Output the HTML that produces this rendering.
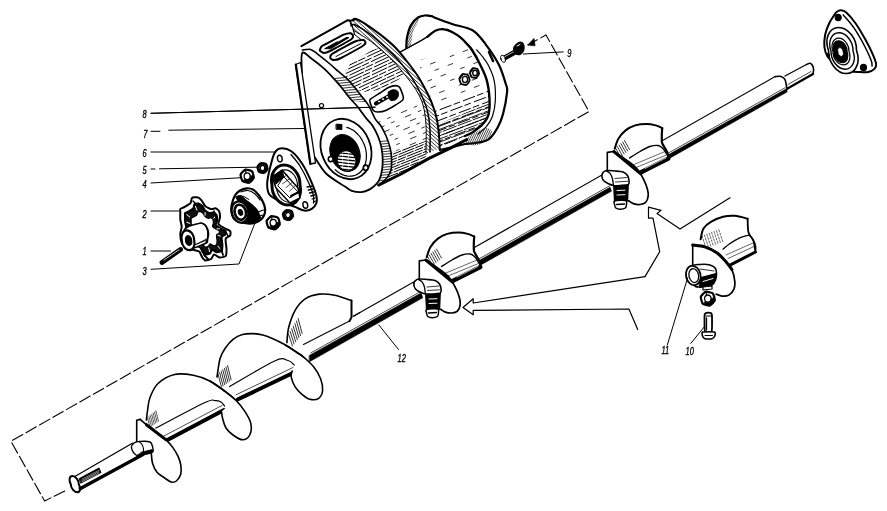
<!DOCTYPE html>
<html><head><meta charset="utf-8"><style>
html,body{margin:0;padding:0;background:#fff;width:887px;height:511px;overflow:hidden}
svg{display:block;filter:grayscale(1)}
text{font-family:"Liberation Sans",sans-serif;font-style:italic;font-size:11px;fill:#000;stroke:none}
</style></head><body>
<svg width="887" height="511" viewBox="0 0 887 511">
<rect width="887" height="511" fill="#fff"/>
<g fill="none" stroke="#000" stroke-linecap="round" stroke-linejoin="round">
<path d="M546.0 35.0 L589.0 111.5 L10.9 441.3 L44.6 501.0 L66.3 490.2" stroke-width="1.1" fill="none" stroke-dasharray="11.8 3.7" stroke-dashoffset="4.4"/>
<path d="M546.0 35.0 L528.0 44.8" stroke-width="1.1" fill="none" stroke-dasharray="6 4"/>
<path d="M528.0 44.8 L534.0 38.5 L535.0 45.5Z" stroke-width="0.8" fill="#000" />
<path d="M406.3 48.4 C406.4 46.6 406.2 41.3 407.0 37.4 C407.8 33.5 409.2 28.3 411.0 25.0 C412.8 21.7 415.7 19.1 418.0 17.5 C420.3 15.9 422.5 15.7 424.8 15.5 C427.1 15.3 430.0 15.9 431.6 16.2 C433.2 16.5 431.0 16.2 434.4 17.5 C437.8 18.8 445.6 21.8 452.0 24.0 C458.4 26.2 467.1 26.9 472.9 30.5 C478.7 34.1 482.3 39.9 486.6 45.6 C490.9 51.3 495.7 58.4 498.9 64.8 C502.1 71.2 504.4 79.4 505.8 84.0 C507.2 88.6 507.6 87.2 507.1 92.2 C506.6 97.2 504.6 108.2 503.0 114.1 C501.4 120.0 499.8 123.7 497.5 127.8 C495.2 131.9 492.5 136.4 489.3 138.8 C486.1 141.2 482.4 141.6 478.4 142.5 C474.3 143.4 467.2 143.8 465.0 144.0 L440 150 L406 60 Z" stroke-width="2.2" fill="#fff" />
<clipPath id="hfl1"><path d="M406.3 48.4 C405.8 46.3 406.2 41.3 407.0 37.4 C407.8 33.5 409.2 28.3 411.0 25.0 C412.8 21.7 416.8 18.0 418.0 17.5 C419.2 17.0 418.8 19.6 418.0 22.0 C417.2 24.4 414.3 27.3 413.0 32.0 C411.7 36.7 411.1 47.3 410.0 50.0 C408.9 52.7 406.8 50.5 406.3 48.4Z"/></clipPath>
<g clip-path="url(#hfl1)">
<path d="M400.0 10.0 L440.0 -54.0" stroke-width="0.7"/>
<path d="M400.0 13.2 L440.0 -50.8" stroke-width="0.7"/>
<path d="M400.0 16.4 L440.0 -47.6" stroke-width="0.7"/>
<path d="M400.0 19.6 L440.0 -44.4" stroke-width="0.7"/>
<path d="M400.0 22.8 L440.0 -41.2" stroke-width="0.7"/>
<path d="M400.0 26.0 L440.0 -38.0" stroke-width="0.7"/>
<path d="M400.0 29.2 L440.0 -34.8" stroke-width="0.7"/>
<path d="M400.0 32.4 L440.0 -31.6" stroke-width="0.7"/>
<path d="M400.0 35.6 L440.0 -28.4" stroke-width="0.7"/>
<path d="M400.0 38.8 L440.0 -25.2" stroke-width="0.7"/>
<path d="M400.0 42.0 L440.0 -22.0" stroke-width="0.7"/>
<path d="M400.0 45.2 L440.0 -18.8" stroke-width="0.7"/>
<path d="M400.0 48.4 L440.0 -15.6" stroke-width="0.7"/>
<path d="M400.0 51.6 L440.0 -12.4" stroke-width="0.7"/>
<path d="M400.0 54.8 L440.0 -9.2" stroke-width="0.7"/>
<path d="M400.0 58.0 L440.0 -6.0" stroke-width="0.7"/>
<path d="M400.0 61.2 L440.0 -2.8" stroke-width="0.7"/>
<path d="M400.0 64.4 L440.0 0.4" stroke-width="0.7"/>
<path d="M400.0 67.6 L440.0 3.6" stroke-width="0.7"/>
<path d="M400.0 70.8 L440.0 6.8" stroke-width="0.7"/>
<path d="M400.0 74.0 L440.0 10.0" stroke-width="0.7"/>
<path d="M400.0 77.2 L440.0 13.2" stroke-width="0.7"/>
<path d="M400.0 80.4 L440.0 16.4" stroke-width="0.7"/>
<path d="M400.0 83.6 L440.0 19.6" stroke-width="0.7"/>
<path d="M400.0 86.8 L440.0 22.8" stroke-width="0.7"/>
<path d="M400.0 90.0 L440.0 26.0" stroke-width="0.7"/>
<path d="M400.0 93.2 L440.0 29.2" stroke-width="0.7"/>
<path d="M400.0 96.4 L440.0 32.4" stroke-width="0.7"/>
<path d="M400.0 99.6 L440.0 35.6" stroke-width="0.7"/>
<path d="M400.0 102.8 L440.0 38.8" stroke-width="0.7"/>
<path d="M400.0 106.0 L440.0 42.0" stroke-width="0.7"/>
<path d="M400.0 109.2 L440.0 45.2" stroke-width="0.7"/>
<path d="M400.0 112.4 L440.0 48.4" stroke-width="0.7"/>
<path d="M400.0 115.6 L440.0 51.6" stroke-width="0.7"/>
<path d="M400.0 118.8 L440.0 54.8" stroke-width="0.7"/>
<path d="M400.0 122.0 L440.0 58.0" stroke-width="0.7"/>
</g>
<clipPath id="hfl2"><path d="M468.0 137.0 C469.7 135.2 473.0 133.5 476.0 132.0 C479.0 130.5 483.3 128.0 486.0 128.0 C488.7 128.0 492.0 129.8 492.0 132.0 C492.0 134.2 488.8 138.8 486.0 141.0 C483.2 143.2 478.3 145.2 475.0 145.5 C471.7 145.8 467.2 144.4 466.0 143.0 C464.8 141.6 466.3 138.8 468.0 137.0Z"/></clipPath>
<g clip-path="url(#hfl2)">
<path d="M460.0 120.0 L500.0 32.0" stroke-width="0.7"/>
<path d="M460.0 124.5 L500.0 36.5" stroke-width="0.7"/>
<path d="M460.0 129.0 L500.0 41.0" stroke-width="0.7"/>
<path d="M460.0 133.5 L500.0 45.5" stroke-width="0.7"/>
<path d="M460.0 138.0 L500.0 50.0" stroke-width="0.7"/>
<path d="M460.0 142.5 L500.0 54.5" stroke-width="0.7"/>
<path d="M460.0 147.0 L500.0 59.0" stroke-width="0.7"/>
<path d="M460.0 151.5 L500.0 63.5" stroke-width="0.7"/>
<path d="M460.0 156.0 L500.0 68.0" stroke-width="0.7"/>
<path d="M460.0 160.5 L500.0 72.5" stroke-width="0.7"/>
<path d="M460.0 165.0 L500.0 77.0" stroke-width="0.7"/>
<path d="M460.0 169.5 L500.0 81.5" stroke-width="0.7"/>
<path d="M460.0 174.0 L500.0 86.0" stroke-width="0.7"/>
<path d="M460.0 178.5 L500.0 90.5" stroke-width="0.7"/>
<path d="M460.0 183.0 L500.0 95.0" stroke-width="0.7"/>
<path d="M460.0 187.5 L500.0 99.5" stroke-width="0.7"/>
<path d="M460.0 192.0 L500.0 104.0" stroke-width="0.7"/>
<path d="M460.0 196.5 L500.0 108.5" stroke-width="0.7"/>
<path d="M460.0 201.0 L500.0 113.0" stroke-width="0.7"/>
<path d="M460.0 205.5 L500.0 117.5" stroke-width="0.7"/>
<path d="M460.0 210.0 L500.0 122.0" stroke-width="0.7"/>
<path d="M460.0 214.5 L500.0 126.5" stroke-width="0.7"/>
<path d="M460.0 219.0 L500.0 131.0" stroke-width="0.7"/>
<path d="M460.0 223.5 L500.0 135.5" stroke-width="0.7"/>
<path d="M460.0 228.0 L500.0 140.0" stroke-width="0.7"/>
<path d="M460.0 232.5 L500.0 144.5" stroke-width="0.7"/>
<path d="M460.0 237.0 L500.0 149.0" stroke-width="0.7"/>
</g>
<path d="M400.0 52.2 L421.5 40.4 L427.5 36.7 C428.9 35.7 433.1 31.8 435.8 30.5 C438.6 29.2 441.3 28.9 444.0 29.2 C446.7 29.4 449.3 30.6 452.0 32.0 C454.7 33.4 457.9 35.4 460.4 37.4 C462.9 39.4 465.1 41.9 467.0 44.0 C468.9 46.1 470.1 47.0 472.0 50.0 C473.9 53.0 476.3 56.8 478.7 61.7 C481.1 66.6 484.7 73.1 486.5 79.3 C488.3 85.5 489.2 93.0 489.5 98.9 C489.8 104.8 489.6 110.4 488.5 114.6 C487.4 118.8 485.2 121.4 482.6 124.3 C480.0 127.2 475.7 130.2 472.8 132.2 C469.9 134.1 466.3 135.4 465.0 136.0 L439.6 148 L428 153 L420 80 Z" stroke-width="0" fill="#fff" stroke="none"/>
<clipPath id="cbl"><path d="M420 115 L495 85 L495 160 L420 160 Z"/></clipPath>
<g clip-path="url(#cbl)">
<clipPath id="hbody"><path d="M400.0 52.2 L421.5 40.4 L427.5 36.7 C428.9 35.7 433.1 31.8 435.8 30.5 C438.6 29.2 441.3 28.9 444.0 29.2 C446.7 29.4 449.3 30.6 452.0 32.0 C454.7 33.4 457.9 35.4 460.4 37.4 C462.9 39.4 465.1 41.9 467.0 44.0 C468.9 46.1 470.1 47.0 472.0 50.0 C473.9 53.0 476.3 56.8 478.7 61.7 C481.1 66.6 484.7 73.1 486.5 79.3 C488.3 85.5 489.2 93.0 489.5 98.9 C489.8 104.8 489.6 110.4 488.5 114.6 C487.4 118.8 485.2 121.4 482.6 124.3 C480.0 127.2 475.7 130.2 472.8 132.2 C469.9 134.1 466.3 135.4 465.0 136.0 L439.6 148 L428 153 L420 80 Z"/></clipPath>
<g clip-path="url(#hbody)">
<path d="M420.0 60.0 L495.0 31.5" stroke-width="1.0" stroke-dasharray="12 3 6 4" stroke-dashoffset="13.0"/>
<path d="M420.0 65.2 L495.0 36.7" stroke-width="1.0" stroke-dasharray="12 3 6 4" stroke-dashoffset="6.0"/>
<path d="M420.0 70.4 L495.0 41.9" stroke-width="1.0" stroke-dasharray="12 3 6 4" stroke-dashoffset="26.0"/>
<path d="M420.0 75.6 L495.0 47.1" stroke-width="1.0" stroke-dasharray="12 3 6 4" stroke-dashoffset="2.9"/>
<path d="M420.0 80.8 L495.0 52.3" stroke-width="1.0" stroke-dasharray="12 3 6 4" stroke-dashoffset="21.4"/>
<path d="M420.0 86.0 L495.0 57.5" stroke-width="1.0" stroke-dasharray="12 3 6 4" stroke-dashoffset="14.6"/>
<path d="M420.0 91.2 L495.0 62.7" stroke-width="1.0" stroke-dasharray="12 3 6 4" stroke-dashoffset="2.3"/>
<path d="M420.0 96.4 L495.0 67.9" stroke-width="1.0" stroke-dasharray="12 3 6 4" stroke-dashoffset="20.3"/>
<path d="M420.0 101.6 L495.0 73.1" stroke-width="1.0" stroke-dasharray="12 3 6 4" stroke-dashoffset="1.5"/>
<path d="M420.0 106.8 L495.0 78.3" stroke-width="1.0" stroke-dasharray="12 3 6 4" stroke-dashoffset="17.3"/>
<path d="M420.0 112.0 L495.0 83.5" stroke-width="1.0" stroke-dasharray="12 3 6 4" stroke-dashoffset="2.8"/>
<path d="M420.0 117.2 L495.0 88.7" stroke-width="1.0" stroke-dasharray="12 3 6 4" stroke-dashoffset="3.6"/>
<path d="M420.0 122.4 L495.0 93.9" stroke-width="1.0" stroke-dasharray="12 3 6 4" stroke-dashoffset="17.0"/>
<path d="M420.0 127.6 L495.0 99.1" stroke-width="1.0" stroke-dasharray="12 3 6 4" stroke-dashoffset="33.1"/>
<path d="M420.0 132.8 L495.0 104.3" stroke-width="1.0" stroke-dasharray="12 3 6 4" stroke-dashoffset="5.0"/>
<path d="M420.0 138.0 L495.0 109.5" stroke-width="1.0" stroke-dasharray="12 3 6 4" stroke-dashoffset="8.9"/>
<path d="M420.0 143.2 L495.0 114.7" stroke-width="1.0" stroke-dasharray="12 3 6 4" stroke-dashoffset="25.1"/>
<path d="M420.0 148.4 L495.0 119.9" stroke-width="1.0" stroke-dasharray="12 3 6 4" stroke-dashoffset="37.9"/>
<path d="M420.0 153.6 L495.0 125.1" stroke-width="1.0" stroke-dasharray="12 3 6 4" stroke-dashoffset="23.1"/>
<path d="M420.0 158.8 L495.0 130.3" stroke-width="1.0" stroke-dasharray="12 3 6 4" stroke-dashoffset="15.9"/>
<path d="M420.0 164.0 L495.0 135.5" stroke-width="1.0" stroke-dasharray="12 3 6 4" stroke-dashoffset="39.1"/>
<path d="M420.0 169.2 L495.0 140.7" stroke-width="1.0" stroke-dasharray="12 3 6 4" stroke-dashoffset="1.9"/>
<path d="M420.0 174.4 L495.0 145.9" stroke-width="1.0" stroke-dasharray="12 3 6 4" stroke-dashoffset="34.3"/>
<path d="M420.0 179.6 L495.0 151.1" stroke-width="1.0" stroke-dasharray="12 3 6 4" stroke-dashoffset="11.6"/>
<path d="M420.0 184.8 L495.0 156.3" stroke-width="1.0" stroke-dasharray="12 3 6 4" stroke-dashoffset="5.8"/>
</g>
</g>
<clipPath id="cbl2"><path d="M420 132 L495 100 L495 160 L420 160 Z"/></clipPath>
<g clip-path="url(#cbl2)">
<clipPath id="hbody2"><path d="M400.0 52.2 L421.5 40.4 L427.5 36.7 C428.9 35.7 433.1 31.8 435.8 30.5 C438.6 29.2 441.3 28.9 444.0 29.2 C446.7 29.4 449.3 30.6 452.0 32.0 C454.7 33.4 457.9 35.4 460.4 37.4 C462.9 39.4 465.1 41.9 467.0 44.0 C468.9 46.1 470.1 47.0 472.0 50.0 C473.9 53.0 476.3 56.8 478.7 61.7 C481.1 66.6 484.7 73.1 486.5 79.3 C488.3 85.5 489.2 93.0 489.5 98.9 C489.8 104.8 489.6 110.4 488.5 114.6 C487.4 118.8 485.2 121.4 482.6 124.3 C480.0 127.2 475.7 130.2 472.8 132.2 C469.9 134.1 466.3 135.4 465.0 136.0 L439.6 148 L428 153 L420 80 Z"/></clipPath>
<g clip-path="url(#hbody2)">
<path d="M420.0 60.0 L495.0 31.5" stroke-width="0.9" stroke-dasharray="14 2" stroke-dashoffset="4.7"/>
<path d="M420.0 63.2 L495.0 34.7" stroke-width="0.9" stroke-dasharray="14 2" stroke-dashoffset="12.3"/>
<path d="M420.0 66.4 L495.0 37.9" stroke-width="0.9" stroke-dasharray="14 2" stroke-dashoffset="32.6"/>
<path d="M420.0 69.6 L495.0 41.1" stroke-width="0.9" stroke-dasharray="14 2" stroke-dashoffset="7.2"/>
<path d="M420.0 72.8 L495.0 44.3" stroke-width="0.9" stroke-dasharray="14 2" stroke-dashoffset="23.3"/>
<path d="M420.0 76.0 L495.0 47.5" stroke-width="0.9" stroke-dasharray="14 2" stroke-dashoffset="25.6"/>
<path d="M420.0 79.2 L495.0 50.7" stroke-width="0.9" stroke-dasharray="14 2" stroke-dashoffset="14.9"/>
<path d="M420.0 82.4 L495.0 53.9" stroke-width="0.9" stroke-dasharray="14 2" stroke-dashoffset="21.9"/>
<path d="M420.0 85.6 L495.0 57.1" stroke-width="0.9" stroke-dasharray="14 2" stroke-dashoffset="2.5"/>
<path d="M420.0 88.8 L495.0 60.3" stroke-width="0.9" stroke-dasharray="14 2" stroke-dashoffset="2.4"/>
<path d="M420.0 92.0 L495.0 63.5" stroke-width="0.9" stroke-dasharray="14 2" stroke-dashoffset="8.2"/>
<path d="M420.0 95.2 L495.0 66.7" stroke-width="0.9" stroke-dasharray="14 2" stroke-dashoffset="27.2"/>
<path d="M420.0 98.4 L495.0 69.9" stroke-width="0.9" stroke-dasharray="14 2" stroke-dashoffset="17.1"/>
<path d="M420.0 101.6 L495.0 73.1" stroke-width="0.9" stroke-dasharray="14 2" stroke-dashoffset="12.6"/>
<path d="M420.0 104.8 L495.0 76.3" stroke-width="0.9" stroke-dasharray="14 2" stroke-dashoffset="23.4"/>
<path d="M420.0 108.0 L495.0 79.5" stroke-width="0.9" stroke-dasharray="14 2" stroke-dashoffset="18.1"/>
<path d="M420.0 111.2 L495.0 82.7" stroke-width="0.9" stroke-dasharray="14 2" stroke-dashoffset="12.0"/>
<path d="M420.0 114.4 L495.0 85.9" stroke-width="0.9" stroke-dasharray="14 2" stroke-dashoffset="31.8"/>
<path d="M420.0 117.6 L495.0 89.1" stroke-width="0.9" stroke-dasharray="14 2" stroke-dashoffset="28.0"/>
<path d="M420.0 120.8 L495.0 92.3" stroke-width="0.9" stroke-dasharray="14 2" stroke-dashoffset="9.8"/>
<path d="M420.0 124.0 L495.0 95.5" stroke-width="0.9" stroke-dasharray="14 2" stroke-dashoffset="23.0"/>
<path d="M420.0 127.2 L495.0 98.7" stroke-width="0.9" stroke-dasharray="14 2" stroke-dashoffset="21.0"/>
<path d="M420.0 130.4 L495.0 101.9" stroke-width="0.9" stroke-dasharray="14 2" stroke-dashoffset="35.0"/>
<path d="M420.0 133.6 L495.0 105.1" stroke-width="0.9" stroke-dasharray="14 2" stroke-dashoffset="29.2"/>
<path d="M420.0 136.8 L495.0 108.3" stroke-width="0.9" stroke-dasharray="14 2" stroke-dashoffset="11.5"/>
<path d="M420.0 140.0 L495.0 111.5" stroke-width="0.9" stroke-dasharray="14 2" stroke-dashoffset="39.2"/>
<path d="M420.0 143.2 L495.0 114.7" stroke-width="0.9" stroke-dasharray="14 2" stroke-dashoffset="4.7"/>
<path d="M420.0 146.4 L495.0 117.9" stroke-width="0.9" stroke-dasharray="14 2" stroke-dashoffset="16.7"/>
<path d="M420.0 149.6 L495.0 121.1" stroke-width="0.9" stroke-dasharray="14 2" stroke-dashoffset="30.3"/>
<path d="M420.0 152.8 L495.0 124.3" stroke-width="0.9" stroke-dasharray="14 2" stroke-dashoffset="6.1"/>
<path d="M420.0 156.0 L495.0 127.5" stroke-width="0.9" stroke-dasharray="14 2" stroke-dashoffset="19.6"/>
<path d="M420.0 159.2 L495.0 130.7" stroke-width="0.9" stroke-dasharray="14 2" stroke-dashoffset="1.6"/>
<path d="M420.0 162.4 L495.0 133.9" stroke-width="0.9" stroke-dasharray="14 2" stroke-dashoffset="26.7"/>
<path d="M420.0 165.6 L495.0 137.1" stroke-width="0.9" stroke-dasharray="14 2" stroke-dashoffset="30.6"/>
<path d="M420.0 168.8 L495.0 140.3" stroke-width="0.9" stroke-dasharray="14 2" stroke-dashoffset="22.9"/>
<path d="M420.0 172.0 L495.0 143.5" stroke-width="0.9" stroke-dasharray="14 2" stroke-dashoffset="35.0"/>
<path d="M420.0 175.2 L495.0 146.7" stroke-width="0.9" stroke-dasharray="14 2" stroke-dashoffset="12.5"/>
<path d="M420.0 178.4 L495.0 149.9" stroke-width="0.9" stroke-dasharray="14 2" stroke-dashoffset="27.8"/>
<path d="M420.0 181.6 L495.0 153.1" stroke-width="0.9" stroke-dasharray="14 2" stroke-dashoffset="23.8"/>
<path d="M420.0 184.8 L495.0 156.3" stroke-width="0.9" stroke-dasharray="14 2" stroke-dashoffset="23.2"/>
<path d="M420.0 188.0 L495.0 159.5" stroke-width="0.9" stroke-dasharray="14 2" stroke-dashoffset="18.2"/>
</g>
</g>
<clipPath id="cbl3"><path d="M420 60 L495 40 L495 85 L420 115 Z"/></clipPath>
<g clip-path="url(#cbl3)">
<clipPath id="hbody3"><path d="M400.0 52.2 L421.5 40.4 L427.5 36.7 C428.9 35.7 433.1 31.8 435.8 30.5 C438.6 29.2 441.3 28.9 444.0 29.2 C446.7 29.4 449.3 30.6 452.0 32.0 C454.7 33.4 457.9 35.4 460.4 37.4 C462.9 39.4 465.1 41.9 467.0 44.0 C468.9 46.1 470.1 47.0 472.0 50.0 C473.9 53.0 476.3 56.8 478.7 61.7 C481.1 66.6 484.7 73.1 486.5 79.3 C488.3 85.5 489.2 93.0 489.5 98.9 C489.8 104.8 489.6 110.4 488.5 114.6 C487.4 118.8 485.2 121.4 482.6 124.3 C480.0 127.2 475.7 130.2 472.8 132.2 C469.9 134.1 466.3 135.4 465.0 136.0 L439.6 148 L428 153 L420 80 Z"/></clipPath>
<g clip-path="url(#hbody3)">
<path d="M420.0 60.0 L495.0 31.5" stroke-width="0.8" stroke-dasharray="4 10 5 16" stroke-dashoffset="33.6"/>
<path d="M420.0 68.0 L495.0 39.5" stroke-width="0.8" stroke-dasharray="4 10 5 16" stroke-dashoffset="37.8"/>
<path d="M420.0 76.0 L495.0 47.5" stroke-width="0.8" stroke-dasharray="4 10 5 16" stroke-dashoffset="19.0"/>
<path d="M420.0 84.0 L495.0 55.5" stroke-width="0.8" stroke-dasharray="4 10 5 16" stroke-dashoffset="26.6"/>
<path d="M420.0 92.0 L495.0 63.5" stroke-width="0.8" stroke-dasharray="4 10 5 16" stroke-dashoffset="2.4"/>
<path d="M420.0 100.0 L495.0 71.5" stroke-width="0.8" stroke-dasharray="4 10 5 16" stroke-dashoffset="28.1"/>
<path d="M420.0 108.0 L495.0 79.5" stroke-width="0.8" stroke-dasharray="4 10 5 16" stroke-dashoffset="25.9"/>
<path d="M420.0 116.0 L495.0 87.5" stroke-width="0.8" stroke-dasharray="4 10 5 16" stroke-dashoffset="39.7"/>
<path d="M420.0 124.0 L495.0 95.5" stroke-width="0.8" stroke-dasharray="4 10 5 16" stroke-dashoffset="32.9"/>
<path d="M420.0 132.0 L495.0 103.5" stroke-width="0.8" stroke-dasharray="4 10 5 16" stroke-dashoffset="11.4"/>
<path d="M420.0 140.0 L495.0 111.5" stroke-width="0.8" stroke-dasharray="4 10 5 16" stroke-dashoffset="15.4"/>
<path d="M420.0 148.0 L495.0 119.5" stroke-width="0.8" stroke-dasharray="4 10 5 16" stroke-dashoffset="26.7"/>
<path d="M420.0 156.0 L495.0 127.5" stroke-width="0.8" stroke-dasharray="4 10 5 16" stroke-dashoffset="0.9"/>
<path d="M420.0 164.0 L495.0 135.5" stroke-width="0.8" stroke-dasharray="4 10 5 16" stroke-dashoffset="18.5"/>
<path d="M420.0 172.0 L495.0 143.5" stroke-width="0.8" stroke-dasharray="4 10 5 16" stroke-dashoffset="6.7"/>
<path d="M420.0 180.0 L495.0 151.5" stroke-width="0.8" stroke-dasharray="4 10 5 16" stroke-dashoffset="4.7"/>
<path d="M420.0 188.0 L495.0 159.5" stroke-width="0.8" stroke-dasharray="4 10 5 16" stroke-dashoffset="2.4"/>
</g>
</g>
<path d="M400.0 52.2 L421.5 40.4 L427.5 36.7" stroke-width="1.5" fill="none" />
<path d="M427.5 36.7 C428.9 35.7 433.1 31.8 435.8 30.5 C438.6 29.2 441.3 28.9 444.0 29.2 C446.7 29.4 449.3 30.6 452.0 32.0 C454.7 33.4 457.9 35.4 460.4 37.4 C462.9 39.4 465.1 41.9 467.0 44.0 C468.9 46.1 470.1 47.0 472.0 50.0 C473.9 53.0 476.3 56.8 478.7 61.7 C481.1 66.6 484.7 73.1 486.5 79.3 C488.3 85.5 489.2 93.0 489.5 98.9 C489.8 104.8 489.6 110.4 488.5 114.6 C487.4 118.8 485.2 121.4 482.6 124.3 C480.0 127.2 475.7 130.2 472.8 132.2 C469.9 134.1 466.3 135.4 465.0 136.0" stroke-width="2.4" fill="none" />
<path d="M476.7 50.0 C477.6 51.0 480.0 53.4 482.0 56.0 C484.0 58.6 486.4 61.4 488.5 65.6 C490.6 69.8 493.2 75.4 494.3 81.3 C495.4 87.2 495.6 95.0 495.3 100.9 C495.0 106.8 493.9 112.3 492.4 116.5 C490.9 120.7 488.9 123.4 486.5 126.3 C484.1 129.2 479.4 132.7 478.0 134.0" stroke-width="1.2" fill="none" />
<path d="M489.0 52.0 L493.0 61.0" stroke-width="2.5" fill="none" />
<path d="M469.6 80.5 C469.5 81.5 467.1 84.5 466.3 84.9 C465.4 85.2 461.8 84.5 461.2 83.9 C460.5 83.2 459.2 79.5 459.4 78.5 C459.5 77.5 461.9 74.5 462.7 74.1 C463.6 73.8 467.2 74.5 467.8 75.1 C468.5 75.8 469.8 79.5 469.6 80.5Z" stroke-width="1.8" fill="#fff" />
<path d="M465.0 79.5 m-2.6 0 a2.6 3.12 0 1 0 5.2 0 a2.6 3.12 0 1 0 -5.2 0" stroke-width="1.4" fill="none" />
<path d="M460.3 78.5 L462.9 74.8" stroke-width="1.1" fill="none" />
<path d="M479.0 73.9 C478.9 74.7 476.8 77.5 476.1 77.8 C475.3 78.1 472.2 77.4 471.5 76.9 C470.9 76.3 469.8 73.0 470.0 72.1 C470.1 71.3 472.2 68.5 472.9 68.2 C473.7 67.9 476.8 68.6 477.5 69.1 C478.1 69.7 479.2 73.0 479.0 73.9Z" stroke-width="1.8" fill="#fff" />
<path d="M475.0 73 m-2.3 0 a2.3 2.76 0 1 0 4.6 0 a2.3 2.76 0 1 0 -4.6 0" stroke-width="1.4" fill="none" />
<path d="M470.8 72.1 L473.1 68.9" stroke-width="1.1" fill="none" />
<path d="M352.5 20.2 C353.1 20.0 353.6 18.2 356.0 19.0 C358.4 19.8 362.6 22.2 366.7 24.8 C370.8 27.4 375.8 31.0 380.4 34.6 C385.0 38.2 389.9 42.1 394.1 46.3 C398.4 50.5 402.0 55.1 405.9 60.0 C409.8 64.9 414.0 70.2 417.6 75.7 C421.2 81.2 424.8 88.1 427.4 93.3 C430.0 98.5 431.7 102.5 433.3 107.0 C434.9 111.5 436.1 115.3 437.0 120.0 C437.9 124.7 438.6 130.3 439.0 135.0 C439.4 139.7 439.5 145.8 439.6 148.0 L428 154 L401 175 L378 190 L301 80 L301.4 46.1 L347.8 20.2 Z" stroke-width="0" fill="#fff" stroke="none"/>
<clipPath id="cup"><path d="M345 72 L350 64 L372 50 L395 44 L410 55 L415 66 L398 80 L380 90 L362 92 L348 86 Z"/></clipPath>
<g clip-path="url(#cup)">
<clipPath id="hdr1"><path d="M302.3 50.0 C303.7 49.9 308.1 48.7 310.6 49.4 C313.2 50.1 314.5 51.8 317.6 54.1 C320.7 56.5 325.9 60.6 329.4 63.5 C332.9 66.4 335.8 69.2 338.7 71.7 C341.6 74.2 344.2 76.0 347.0 78.7 C349.8 81.4 352.9 85.3 355.2 88.1 C357.5 90.9 358.8 92.7 361.0 95.5 C363.2 98.3 366.0 101.3 368.4 105.2 C370.8 109.1 373.2 115.5 375.2 118.9 C377.2 122.3 378.8 122.7 380.6 125.5 C382.4 128.3 384.5 132.2 386.1 136.0 C387.7 139.8 389.3 144.4 390.2 148.3 C391.1 152.2 391.5 155.5 391.6 159.2 C391.7 162.8 391.6 167.2 390.9 170.2 C390.2 173.2 389.0 175.0 387.5 177.1 C386.0 179.2 383.6 181.1 382.0 182.5 C380.4 183.9 378.6 184.8 377.9 185.3 L401.0 175.0 L426.0 157.0 L426.0 154.0 C426.0 149.2 426.5 133.2 426.0 125.0 C425.5 116.8 424.7 110.9 423.0 105.0 C421.3 99.1 418.9 94.6 415.7 89.4 C412.5 84.2 408.2 78.9 404.0 73.7 C399.8 68.5 395.1 62.9 390.2 58.0 C385.3 53.1 378.5 47.6 374.6 44.4 C370.7 41.1 370.1 40.8 366.7 38.5 C363.3 36.2 356.1 32.0 354.0 30.7 Z"/></clipPath>
<g clip-path="url(#hdr1)">
<path d="M330.0 30.0 L440.0 -21.7" stroke-width="1.0" stroke-dasharray="16 2 7 3" stroke-dashoffset="30.7"/>
<path d="M330.0 33.4 L440.0 -18.3" stroke-width="1.0" stroke-dasharray="16 2 7 3" stroke-dashoffset="5.2"/>
<path d="M330.0 36.8 L440.0 -14.9" stroke-width="1.0" stroke-dasharray="16 2 7 3" stroke-dashoffset="9.9"/>
<path d="M330.0 40.2 L440.0 -11.5" stroke-width="1.0" stroke-dasharray="16 2 7 3" stroke-dashoffset="15.6"/>
<path d="M330.0 43.6 L440.0 -8.1" stroke-width="1.0" stroke-dasharray="16 2 7 3" stroke-dashoffset="34.9"/>
<path d="M330.0 47.0 L440.0 -4.7" stroke-width="1.0" stroke-dasharray="16 2 7 3" stroke-dashoffset="3.2"/>
<path d="M330.0 50.4 L440.0 -1.3" stroke-width="1.0" stroke-dasharray="16 2 7 3" stroke-dashoffset="18.0"/>
<path d="M330.0 53.8 L440.0 2.1" stroke-width="1.0" stroke-dasharray="16 2 7 3" stroke-dashoffset="22.0"/>
<path d="M330.0 57.2 L440.0 5.5" stroke-width="1.0" stroke-dasharray="16 2 7 3" stroke-dashoffset="35.3"/>
<path d="M330.0 60.6 L440.0 8.9" stroke-width="1.0" stroke-dasharray="16 2 7 3" stroke-dashoffset="32.8"/>
<path d="M330.0 64.0 L440.0 12.3" stroke-width="1.0" stroke-dasharray="16 2 7 3" stroke-dashoffset="34.6"/>
<path d="M330.0 67.4 L440.0 15.7" stroke-width="1.0" stroke-dasharray="16 2 7 3" stroke-dashoffset="11.1"/>
<path d="M330.0 70.8 L440.0 19.1" stroke-width="1.0" stroke-dasharray="16 2 7 3" stroke-dashoffset="16.6"/>
<path d="M330.0 74.2 L440.0 22.5" stroke-width="1.0" stroke-dasharray="16 2 7 3" stroke-dashoffset="14.4"/>
<path d="M330.0 77.6 L440.0 25.9" stroke-width="1.0" stroke-dasharray="16 2 7 3" stroke-dashoffset="35.4"/>
<path d="M330.0 81.0 L440.0 29.3" stroke-width="1.0" stroke-dasharray="16 2 7 3" stroke-dashoffset="38.3"/>
<path d="M330.0 84.4 L440.0 32.7" stroke-width="1.0" stroke-dasharray="16 2 7 3" stroke-dashoffset="6.0"/>
<path d="M330.0 87.8 L440.0 36.1" stroke-width="1.0" stroke-dasharray="16 2 7 3" stroke-dashoffset="7.0"/>
<path d="M330.0 91.2 L440.0 39.5" stroke-width="1.0" stroke-dasharray="16 2 7 3" stroke-dashoffset="9.3"/>
<path d="M330.0 94.6 L440.0 42.9" stroke-width="1.0" stroke-dasharray="16 2 7 3" stroke-dashoffset="9.3"/>
<path d="M330.0 98.0 L440.0 46.3" stroke-width="1.0" stroke-dasharray="16 2 7 3" stroke-dashoffset="19.4"/>
<path d="M330.0 101.4 L440.0 49.7" stroke-width="1.0" stroke-dasharray="16 2 7 3" stroke-dashoffset="23.6"/>
<path d="M330.0 104.8 L440.0 53.1" stroke-width="1.0" stroke-dasharray="16 2 7 3" stroke-dashoffset="10.5"/>
<path d="M330.0 108.2 L440.0 56.5" stroke-width="1.0" stroke-dasharray="16 2 7 3" stroke-dashoffset="0.2"/>
<path d="M330.0 111.6 L440.0 59.9" stroke-width="1.0" stroke-dasharray="16 2 7 3" stroke-dashoffset="16.8"/>
<path d="M330.0 115.0 L440.0 63.3" stroke-width="1.0" stroke-dasharray="16 2 7 3" stroke-dashoffset="14.8"/>
<path d="M330.0 118.4 L440.0 66.7" stroke-width="1.0" stroke-dasharray="16 2 7 3" stroke-dashoffset="22.7"/>
<path d="M330.0 121.8 L440.0 70.1" stroke-width="1.0" stroke-dasharray="16 2 7 3" stroke-dashoffset="38.1"/>
<path d="M330.0 125.2 L440.0 73.5" stroke-width="1.0" stroke-dasharray="16 2 7 3" stroke-dashoffset="27.6"/>
<path d="M330.0 128.6 L440.0 76.9" stroke-width="1.0" stroke-dasharray="16 2 7 3" stroke-dashoffset="20.6"/>
<path d="M330.0 132.0 L440.0 80.3" stroke-width="1.0" stroke-dasharray="16 2 7 3" stroke-dashoffset="24.7"/>
<path d="M330.0 135.4 L440.0 83.7" stroke-width="1.0" stroke-dasharray="16 2 7 3" stroke-dashoffset="27.0"/>
<path d="M330.0 138.8 L440.0 87.1" stroke-width="1.0" stroke-dasharray="16 2 7 3" stroke-dashoffset="2.2"/>
<path d="M330.0 142.2 L440.0 90.5" stroke-width="1.0" stroke-dasharray="16 2 7 3" stroke-dashoffset="36.0"/>
<path d="M330.0 145.6 L440.0 93.9" stroke-width="1.0" stroke-dasharray="16 2 7 3" stroke-dashoffset="31.2"/>
<path d="M330.0 149.0 L440.0 97.3" stroke-width="1.0" stroke-dasharray="16 2 7 3" stroke-dashoffset="35.0"/>
</g>
</g>
<clipPath id="clow"><path d="M370 160 L440 136 L440 200 L370 200 Z"/></clipPath>
<g clip-path="url(#clow)">
<clipPath id="hdr2"><path d="M302.3 50.0 C303.7 49.9 308.1 48.7 310.6 49.4 C313.2 50.1 314.5 51.8 317.6 54.1 C320.7 56.5 325.9 60.6 329.4 63.5 C332.9 66.4 335.8 69.2 338.7 71.7 C341.6 74.2 344.2 76.0 347.0 78.7 C349.8 81.4 352.9 85.3 355.2 88.1 C357.5 90.9 358.8 92.7 361.0 95.5 C363.2 98.3 366.0 101.3 368.4 105.2 C370.8 109.1 373.2 115.5 375.2 118.9 C377.2 122.3 378.8 122.7 380.6 125.5 C382.4 128.3 384.5 132.2 386.1 136.0 C387.7 139.8 389.3 144.4 390.2 148.3 C391.1 152.2 391.5 155.5 391.6 159.2 C391.7 162.8 391.6 167.2 390.9 170.2 C390.2 173.2 389.0 175.0 387.5 177.1 C386.0 179.2 383.6 181.1 382.0 182.5 C380.4 183.9 378.6 184.8 377.9 185.3 L401.0 175.0 L426.0 157.0 L426.0 154.0 C426.0 149.2 426.5 133.2 426.0 125.0 C425.5 116.8 424.7 110.9 423.0 105.0 C421.3 99.1 418.9 94.6 415.7 89.4 C412.5 84.2 408.2 78.9 404.0 73.7 C399.8 68.5 395.1 62.9 390.2 58.0 C385.3 53.1 378.5 47.6 374.6 44.4 C370.7 41.1 370.1 40.8 366.7 38.5 C363.3 36.2 356.1 32.0 354.0 30.7 Z"/></clipPath>
<g clip-path="url(#hdr2)">
<path d="M360.0 118.0 L440.0 86.0" stroke-width="1.0" stroke-dasharray="16 2 8 2" stroke-dashoffset="31.9"/>
<path d="M360.0 120.6 L440.0 88.6" stroke-width="1.0" stroke-dasharray="16 2 8 2" stroke-dashoffset="15.7"/>
<path d="M360.0 123.2 L440.0 91.2" stroke-width="1.0" stroke-dasharray="16 2 8 2" stroke-dashoffset="16.0"/>
<path d="M360.0 125.8 L440.0 93.8" stroke-width="1.0" stroke-dasharray="16 2 8 2" stroke-dashoffset="4.1"/>
<path d="M360.0 128.4 L440.0 96.4" stroke-width="1.0" stroke-dasharray="16 2 8 2" stroke-dashoffset="25.4"/>
<path d="M360.0 131.0 L440.0 99.0" stroke-width="1.0" stroke-dasharray="16 2 8 2" stroke-dashoffset="2.5"/>
<path d="M360.0 133.6 L440.0 101.6" stroke-width="1.0" stroke-dasharray="16 2 8 2" stroke-dashoffset="2.7"/>
<path d="M360.0 136.2 L440.0 104.2" stroke-width="1.0" stroke-dasharray="16 2 8 2" stroke-dashoffset="8.4"/>
<path d="M360.0 138.8 L440.0 106.8" stroke-width="1.0" stroke-dasharray="16 2 8 2" stroke-dashoffset="6.5"/>
<path d="M360.0 141.4 L440.0 109.4" stroke-width="1.0" stroke-dasharray="16 2 8 2" stroke-dashoffset="13.6"/>
<path d="M360.0 144.0 L440.0 112.0" stroke-width="1.0" stroke-dasharray="16 2 8 2" stroke-dashoffset="2.1"/>
<path d="M360.0 146.6 L440.0 114.6" stroke-width="1.0" stroke-dasharray="16 2 8 2" stroke-dashoffset="0.0"/>
<path d="M360.0 149.2 L440.0 117.2" stroke-width="1.0" stroke-dasharray="16 2 8 2" stroke-dashoffset="6.1"/>
<path d="M360.0 151.8 L440.0 119.8" stroke-width="1.0" stroke-dasharray="16 2 8 2" stroke-dashoffset="4.1"/>
<path d="M360.0 154.4 L440.0 122.4" stroke-width="1.0" stroke-dasharray="16 2 8 2" stroke-dashoffset="14.5"/>
<path d="M360.0 157.0 L440.0 125.0" stroke-width="1.0" stroke-dasharray="16 2 8 2" stroke-dashoffset="1.0"/>
<path d="M360.0 159.6 L440.0 127.6" stroke-width="1.0" stroke-dasharray="16 2 8 2" stroke-dashoffset="35.0"/>
<path d="M360.0 162.2 L440.0 130.2" stroke-width="1.0" stroke-dasharray="16 2 8 2" stroke-dashoffset="24.6"/>
<path d="M360.0 164.8 L440.0 132.8" stroke-width="1.0" stroke-dasharray="16 2 8 2" stroke-dashoffset="5.9"/>
<path d="M360.0 167.4 L440.0 135.4" stroke-width="1.0" stroke-dasharray="16 2 8 2" stroke-dashoffset="10.1"/>
<path d="M360.0 170.0 L440.0 138.0" stroke-width="1.0" stroke-dasharray="16 2 8 2" stroke-dashoffset="13.9"/>
<path d="M360.0 172.6 L440.0 140.6" stroke-width="1.0" stroke-dasharray="16 2 8 2" stroke-dashoffset="14.6"/>
<path d="M360.0 175.2 L440.0 143.2" stroke-width="1.0" stroke-dasharray="16 2 8 2" stroke-dashoffset="4.9"/>
<path d="M360.0 177.8 L440.0 145.8" stroke-width="1.0" stroke-dasharray="16 2 8 2" stroke-dashoffset="34.0"/>
<path d="M360.0 180.4 L440.0 148.4" stroke-width="1.0" stroke-dasharray="16 2 8 2" stroke-dashoffset="39.7"/>
<path d="M360.0 183.0 L440.0 151.0" stroke-width="1.0" stroke-dasharray="16 2 8 2" stroke-dashoffset="18.6"/>
<path d="M360.0 185.6 L440.0 153.6" stroke-width="1.0" stroke-dasharray="16 2 8 2" stroke-dashoffset="19.4"/>
<path d="M360.0 188.2 L440.0 156.2" stroke-width="1.0" stroke-dasharray="16 2 8 2" stroke-dashoffset="3.4"/>
<path d="M360.0 190.8 L440.0 158.8" stroke-width="1.0" stroke-dasharray="16 2 8 2" stroke-dashoffset="4.1"/>
<path d="M360.0 193.4 L440.0 161.4" stroke-width="1.0" stroke-dasharray="16 2 8 2" stroke-dashoffset="13.7"/>
<path d="M360.0 196.0 L440.0 164.0" stroke-width="1.0" stroke-dasharray="16 2 8 2" stroke-dashoffset="10.6"/>
<path d="M360.0 198.6 L440.0 166.6" stroke-width="1.0" stroke-dasharray="16 2 8 2" stroke-dashoffset="33.2"/>
<path d="M360.0 201.2 L440.0 169.2" stroke-width="1.0" stroke-dasharray="16 2 8 2" stroke-dashoffset="6.5"/>
<path d="M360.0 203.8 L440.0 171.8" stroke-width="1.0" stroke-dasharray="16 2 8 2" stroke-dashoffset="0.9"/>
<path d="M360.0 206.4 L440.0 174.4" stroke-width="1.0" stroke-dasharray="16 2 8 2" stroke-dashoffset="38.0"/>
<path d="M360.0 209.0 L440.0 177.0" stroke-width="1.0" stroke-dasharray="16 2 8 2" stroke-dashoffset="21.1"/>
<path d="M360.0 211.6 L440.0 179.6" stroke-width="1.0" stroke-dasharray="16 2 8 2" stroke-dashoffset="5.9"/>
<path d="M360.0 214.2 L440.0 182.2" stroke-width="1.0" stroke-dasharray="16 2 8 2" stroke-dashoffset="21.7"/>
<path d="M360.0 216.8 L440.0 184.8" stroke-width="1.0" stroke-dasharray="16 2 8 2" stroke-dashoffset="1.1"/>
<path d="M360.0 219.4 L440.0 187.4" stroke-width="1.0" stroke-dasharray="16 2 8 2" stroke-dashoffset="21.1"/>
<path d="M360.0 222.0 L440.0 190.0" stroke-width="1.0" stroke-dasharray="16 2 8 2" stroke-dashoffset="39.1"/>
<path d="M360.0 224.6 L440.0 192.6" stroke-width="1.0" stroke-dasharray="16 2 8 2" stroke-dashoffset="34.5"/>
<path d="M360.0 227.2 L440.0 195.2" stroke-width="1.0" stroke-dasharray="16 2 8 2" stroke-dashoffset="27.8"/>
<path d="M360.0 229.8 L440.0 197.8" stroke-width="1.0" stroke-dasharray="16 2 8 2" stroke-dashoffset="10.4"/>
</g>
</g>
<clipPath id="cmid"><path d="M370 125 L440 95 L440 136 L370 160 Z"/></clipPath>
<g clip-path="url(#cmid)">
<clipPath id="hdr3"><path d="M302.3 50.0 C303.7 49.9 308.1 48.7 310.6 49.4 C313.2 50.1 314.5 51.8 317.6 54.1 C320.7 56.5 325.9 60.6 329.4 63.5 C332.9 66.4 335.8 69.2 338.7 71.7 C341.6 74.2 344.2 76.0 347.0 78.7 C349.8 81.4 352.9 85.3 355.2 88.1 C357.5 90.9 358.8 92.7 361.0 95.5 C363.2 98.3 366.0 101.3 368.4 105.2 C370.8 109.1 373.2 115.5 375.2 118.9 C377.2 122.3 378.8 122.7 380.6 125.5 C382.4 128.3 384.5 132.2 386.1 136.0 C387.7 139.8 389.3 144.4 390.2 148.3 C391.1 152.2 391.5 155.5 391.6 159.2 C391.7 162.8 391.6 167.2 390.9 170.2 C390.2 173.2 389.0 175.0 387.5 177.1 C386.0 179.2 383.6 181.1 382.0 182.5 C380.4 183.9 378.6 184.8 377.9 185.3 L401.0 175.0 L426.0 157.0 L426.0 154.0 C426.0 149.2 426.5 133.2 426.0 125.0 C425.5 116.8 424.7 110.9 423.0 105.0 C421.3 99.1 418.9 94.6 415.7 89.4 C412.5 84.2 408.2 78.9 404.0 73.7 C399.8 68.5 395.1 62.9 390.2 58.0 C385.3 53.1 378.5 47.6 374.6 44.4 C370.7 41.1 370.1 40.8 366.7 38.5 C363.3 36.2 356.1 32.0 354.0 30.7 Z"/></clipPath>
<g clip-path="url(#hdr3)">
<path d="M360.0 100.0 L440.0 66.4" stroke-width="0.8" stroke-dasharray="6 8 3 12" stroke-dashoffset="14.7"/>
<path d="M360.0 106.0 L440.0 72.4" stroke-width="0.8" stroke-dasharray="6 8 3 12" stroke-dashoffset="6.7"/>
<path d="M360.0 112.0 L440.0 78.4" stroke-width="0.8" stroke-dasharray="6 8 3 12" stroke-dashoffset="30.9"/>
<path d="M360.0 118.0 L440.0 84.4" stroke-width="0.8" stroke-dasharray="6 8 3 12" stroke-dashoffset="21.3"/>
<path d="M360.0 124.0 L440.0 90.4" stroke-width="0.8" stroke-dasharray="6 8 3 12" stroke-dashoffset="31.2"/>
<path d="M360.0 130.0 L440.0 96.4" stroke-width="0.8" stroke-dasharray="6 8 3 12" stroke-dashoffset="13.2"/>
<path d="M360.0 136.0 L440.0 102.4" stroke-width="0.8" stroke-dasharray="6 8 3 12" stroke-dashoffset="8.9"/>
<path d="M360.0 142.0 L440.0 108.4" stroke-width="0.8" stroke-dasharray="6 8 3 12" stroke-dashoffset="32.5"/>
<path d="M360.0 148.0 L440.0 114.4" stroke-width="0.8" stroke-dasharray="6 8 3 12" stroke-dashoffset="39.4"/>
<path d="M360.0 154.0 L440.0 120.4" stroke-width="0.8" stroke-dasharray="6 8 3 12" stroke-dashoffset="34.1"/>
<path d="M360.0 160.0 L440.0 126.4" stroke-width="0.8" stroke-dasharray="6 8 3 12" stroke-dashoffset="32.2"/>
<path d="M360.0 166.0 L440.0 132.4" stroke-width="0.8" stroke-dasharray="6 8 3 12" stroke-dashoffset="32.7"/>
<path d="M360.0 172.0 L440.0 138.4" stroke-width="0.8" stroke-dasharray="6 8 3 12" stroke-dashoffset="29.6"/>
<path d="M360.0 178.0 L440.0 144.4" stroke-width="0.8" stroke-dasharray="6 8 3 12" stroke-dashoffset="9.1"/>
<path d="M360.0 184.0 L440.0 150.4" stroke-width="0.8" stroke-dasharray="6 8 3 12" stroke-dashoffset="20.7"/>
<path d="M360.0 190.0 L440.0 156.4" stroke-width="0.8" stroke-dasharray="6 8 3 12" stroke-dashoffset="14.2"/>
</g>
</g>
<clipPath id="hband"><path d="M352.5 20.2 C353.1 20.0 353.6 18.2 356.0 19.0 C358.4 19.8 362.6 22.2 366.7 24.8 C370.8 27.4 375.8 31.0 380.4 34.6 C385.0 38.2 389.9 42.1 394.1 46.3 C398.4 50.5 402.0 55.1 405.9 60.0 C409.8 64.9 414.0 70.2 417.6 75.7 C421.2 81.2 424.8 88.1 427.4 93.3 C430.0 98.5 431.7 102.5 433.3 107.0 C434.9 111.5 436.1 115.3 437.0 120.0 C437.9 124.7 438.6 130.3 439.0 135.0 C439.4 139.7 439.5 145.8 439.6 148.0 L426.0 154.0 C426.0 149.2 426.5 133.2 426.0 125.0 C425.5 116.8 424.7 110.9 423.0 105.0 C421.3 99.1 418.9 94.6 415.7 89.4 C412.5 84.2 408.2 78.9 404.0 73.7 C399.8 68.5 395.1 62.9 390.2 58.0 C385.3 53.1 378.5 47.6 374.6 44.4 C370.7 41.1 370.1 40.8 366.7 38.5 C363.3 36.2 356.1 32.0 354.0 30.7 Z"/></clipPath>
<g clip-path="url(#hband)">
<path d="M350.0 0.0 L445.0 85.5" stroke-width="0.8"/>
<path d="M350.0 3.6 L445.0 89.1" stroke-width="0.8"/>
<path d="M350.0 7.2 L445.0 92.7" stroke-width="0.8"/>
<path d="M350.0 10.8 L445.0 96.3" stroke-width="0.8"/>
<path d="M350.0 14.4 L445.0 99.9" stroke-width="0.8"/>
<path d="M350.0 18.0 L445.0 103.5" stroke-width="0.8"/>
<path d="M350.0 21.6 L445.0 107.1" stroke-width="0.8"/>
<path d="M350.0 25.2 L445.0 110.7" stroke-width="0.8"/>
<path d="M350.0 28.8 L445.0 114.3" stroke-width="0.8"/>
<path d="M350.0 32.4 L445.0 117.9" stroke-width="0.8"/>
<path d="M350.0 36.0 L445.0 121.5" stroke-width="0.8"/>
<path d="M350.0 39.6 L445.0 125.1" stroke-width="0.8"/>
<path d="M350.0 43.2 L445.0 128.7" stroke-width="0.8"/>
<path d="M350.0 46.8 L445.0 132.3" stroke-width="0.8"/>
<path d="M350.0 50.4 L445.0 135.9" stroke-width="0.8"/>
<path d="M350.0 54.0 L445.0 139.5" stroke-width="0.8"/>
<path d="M350.0 57.6 L445.0 143.1" stroke-width="0.8"/>
<path d="M350.0 61.2 L445.0 146.7" stroke-width="0.8"/>
<path d="M350.0 64.8 L445.0 150.3" stroke-width="0.8"/>
<path d="M350.0 68.4 L445.0 153.9" stroke-width="0.8"/>
<path d="M350.0 72.0 L445.0 157.5" stroke-width="0.8"/>
<path d="M350.0 75.6 L445.0 161.1" stroke-width="0.8"/>
<path d="M350.0 79.2 L445.0 164.7" stroke-width="0.8"/>
<path d="M350.0 82.8 L445.0 168.3" stroke-width="0.8"/>
<path d="M350.0 86.4 L445.0 171.9" stroke-width="0.8"/>
<path d="M350.0 90.0 L445.0 175.5" stroke-width="0.8"/>
<path d="M350.0 93.6 L445.0 179.1" stroke-width="0.8"/>
<path d="M350.0 97.2 L445.0 182.7" stroke-width="0.8"/>
<path d="M350.0 100.8 L445.0 186.3" stroke-width="0.8"/>
<path d="M350.0 104.4 L445.0 189.9" stroke-width="0.8"/>
<path d="M350.0 108.0 L445.0 193.5" stroke-width="0.8"/>
<path d="M350.0 111.6 L445.0 197.1" stroke-width="0.8"/>
<path d="M350.0 115.2 L445.0 200.7" stroke-width="0.8"/>
<path d="M350.0 118.8 L445.0 204.3" stroke-width="0.8"/>
<path d="M350.0 122.4 L445.0 207.9" stroke-width="0.8"/>
<path d="M350.0 126.0 L445.0 211.5" stroke-width="0.8"/>
<path d="M350.0 129.6 L445.0 215.1" stroke-width="0.8"/>
<path d="M350.0 133.2 L445.0 218.7" stroke-width="0.8"/>
<path d="M350.0 136.8 L445.0 222.3" stroke-width="0.8"/>
<path d="M350.0 140.4 L445.0 225.9" stroke-width="0.8"/>
<path d="M350.0 144.0 L445.0 229.5" stroke-width="0.8"/>
<path d="M350.0 147.6 L445.0 233.1" stroke-width="0.8"/>
<path d="M350.0 151.2 L445.0 236.7" stroke-width="0.8"/>
<path d="M350.0 154.8 L445.0 240.3" stroke-width="0.8"/>
<path d="M350.0 158.4 L445.0 243.9" stroke-width="0.8"/>
<path d="M350.0 162.0 L445.0 247.5" stroke-width="0.8"/>
<path d="M350.0 165.6 L445.0 251.1" stroke-width="0.8"/>
<path d="M350.0 169.2 L445.0 254.7" stroke-width="0.8"/>
<path d="M350.0 172.8 L445.0 258.3" stroke-width="0.8"/>
<path d="M350.0 176.4 L445.0 261.9" stroke-width="0.8"/>
<path d="M350.0 180.0 L445.0 265.5" stroke-width="0.8"/>
<path d="M350.0 183.6 L445.0 269.1" stroke-width="0.8"/>
<path d="M350.0 187.2 L445.0 272.7" stroke-width="0.8"/>
<path d="M350.0 190.8 L445.0 276.3" stroke-width="0.8"/>
<path d="M350.0 194.4 L445.0 279.9" stroke-width="0.8"/>
<path d="M350.0 198.0 L445.0 283.5" stroke-width="0.8"/>
<path d="M350.0 201.6 L445.0 287.1" stroke-width="0.8"/>
<path d="M350.0 205.2 L445.0 290.7" stroke-width="0.8"/>
<path d="M350.0 208.8 L445.0 294.3" stroke-width="0.8"/>
<path d="M350.0 212.4 L445.0 297.9" stroke-width="0.8"/>
<path d="M350.0 216.0 L445.0 301.5" stroke-width="0.8"/>
<path d="M350.0 219.6 L445.0 305.1" stroke-width="0.8"/>
<path d="M350.0 223.2 L445.0 308.7" stroke-width="0.8"/>
<path d="M350.0 226.8 L445.0 312.3" stroke-width="0.8"/>
<path d="M350.0 230.4 L445.0 315.9" stroke-width="0.8"/>
<path d="M350.0 234.0 L445.0 319.5" stroke-width="0.8"/>
<path d="M350.0 237.6 L445.0 323.1" stroke-width="0.8"/>
<path d="M350.0 241.2 L445.0 326.7" stroke-width="0.8"/>
<path d="M350.0 244.8 L445.0 330.3" stroke-width="0.8"/>
</g>
<path d="M352.5 20.2 C353.1 20.0 353.6 18.2 356.0 19.0 C358.4 19.8 362.6 22.2 366.7 24.8 C370.8 27.4 375.8 31.0 380.4 34.6 C385.0 38.2 389.9 42.1 394.1 46.3 C398.4 50.5 402.0 55.1 405.9 60.0 C409.8 64.9 414.0 70.2 417.6 75.7 C421.2 81.2 424.8 88.1 427.4 93.3 C430.0 98.5 431.7 102.5 433.3 107.0 C434.9 111.5 436.1 115.3 437.0 120.0 C437.9 124.7 438.6 130.3 439.0 135.0 C439.4 139.7 439.5 145.8 439.6 148.0" stroke-width="2" fill="none" />
<path d="M352.0 25.5 C352.5 25.4 351.9 23.3 355.0 24.8 C358.1 26.3 365.5 30.7 370.7 34.6 C375.9 38.5 381.4 43.7 386.3 48.3 C391.2 52.9 395.8 57.1 400.0 62.0 C404.2 66.9 408.2 72.1 411.8 77.6 C415.4 83.1 418.9 89.7 421.5 95.2 C424.1 100.8 426.0 105.1 427.4 110.9 C428.8 116.7 429.6 123.2 430.0 130.0 C430.4 136.8 430.0 148.3 430.0 152.0" stroke-width="1.5" fill="none" />
<path d="M354.0 30.7 C356.1 32.0 363.3 36.2 366.7 38.5 C370.1 40.8 370.7 41.1 374.6 44.4 C378.5 47.6 385.3 53.1 390.2 58.0 C395.1 62.9 399.8 68.5 404.0 73.7 C408.2 78.9 412.5 84.2 415.7 89.4 C418.9 94.6 421.3 99.1 423.0 105.0 C424.7 110.9 425.5 116.8 426.0 125.0 C426.5 133.2 426.0 149.2 426.0 154.0" stroke-width="1.0" fill="none" />
<path d="M379.0 185.0 L401.0 174.0 L428.5 158.6 L450.4 148.2 L466.8 139.5" stroke-width="3" fill="none" />
<path d="M301.4 46.1 L347.8 20.2 L350.1 20.8 L352.5 20.2 L356.0 19.0" stroke-width="2" fill="none" />
<path d="M350.1 20.8 L351.3 26.0" stroke-width="1.5" fill="none" />
<path d="M319.8 50.5 C319.6 49.9 320.8 47.2 321.5 46.5 C322.2 45.8 324.8 44.7 327.0 43.5 C329.2 42.3 341.3 35.6 343.7 34.6 C346.1 33.6 349.6 33.1 350.5 33.2 C351.4 33.3 352.9 34.9 353.0 35.5 C353.1 36.1 353.3 38.0 351.0 39.5 C348.7 41.0 332.7 49.6 330.0 51.0 C327.3 52.4 325.0 53.0 324.0 53.0 C323.0 53.0 320.1 51.1 319.8 50.5Z" stroke-width="2" fill="#fff" />
<path d="M325.0 48.5 L345.0 37.5 L349.0 37.5 L331.0 48.5Z" stroke-width="1" fill="#000" />
<path d="M338.0 41.0 L346.0 36.5" stroke-width="1.2" fill="none" stroke="#fff"/>
<path d="M330.5 58.5 C330.3 57.9 329.6 55.7 332.0 54.0 C334.4 52.3 351.9 42.9 355.0 41.5 C358.1 40.1 362.4 39.9 363.5 40.0 C364.6 40.1 365.6 42.4 365.5 43.0 C365.4 43.6 364.6 45.0 362.0 46.5 C359.4 48.0 342.8 57.1 340.0 58.5 C337.2 59.9 334.9 60.0 334.0 60.0 C333.1 60.0 330.7 59.1 330.5 58.5Z" stroke-width="2" fill="#fff" />
<path d="M336.0 56.5 L361.0 43.5" stroke-width="1" fill="none" />
<path d="M350.1 20.8 L352.5 27.0 L354.5 34.5" stroke-width="1.2" fill="none" />
<path d="M354.5 34.5 L361.0 39.5" stroke-width="1" fill="none" />
<clipPath id="crimlow"><path d="M335 77 L370 77 L370 102 L335 102 Z M370 140 L400 140 L400 183 L370 183 Z"/></clipPath>
<g clip-path="url(#crimlow)">
<clipPath id="hrim"><path d="M302.3 50.0 C303.7 49.9 308.1 48.7 310.6 49.4 C313.2 50.1 314.5 51.8 317.6 54.1 C320.7 56.5 325.9 60.6 329.4 63.5 C332.9 66.4 335.8 69.2 338.7 71.7 C341.6 74.2 344.2 76.0 347.0 78.7 C349.8 81.4 352.9 85.3 355.2 88.1 C357.5 90.9 358.8 92.7 361.0 95.5 C363.2 98.3 366.0 101.3 368.4 105.2 C370.8 109.1 373.2 115.5 375.2 118.9 C377.2 122.3 378.8 122.7 380.6 125.5 C382.4 128.3 384.5 132.2 386.1 136.0 C387.7 139.8 389.3 144.4 390.2 148.3 C391.1 152.2 391.5 155.5 391.6 159.2 C391.7 162.8 391.6 167.2 390.9 170.2 C390.2 173.2 389.0 175.0 387.5 177.1 C386.0 179.2 383.6 181.1 382.0 182.5 C380.4 183.9 378.6 184.8 377.9 185.3 L361.4 192.1 C362.8 191.7 367.2 190.8 369.7 189.4 C372.2 188.0 374.8 185.7 376.5 183.9 C378.2 182.1 379.0 180.7 379.9 178.4 C380.8 176.1 381.5 173.4 382.0 170.2 C382.5 167.0 382.8 163.1 382.7 159.2 C382.6 155.3 382.1 150.8 381.3 146.9 C380.5 143.0 379.4 139.6 377.9 136.0 C376.4 132.4 374.4 128.6 372.4 125.5 C370.3 122.4 368.1 120.7 365.6 117.5 C363.1 114.3 360.1 109.8 357.4 106.5 C354.7 103.2 352.0 100.8 349.3 97.5 C346.6 94.2 343.8 90.3 341.1 87.0 C338.4 83.7 335.8 80.7 332.9 77.6 C330.0 74.5 327.0 71.3 323.5 68.2 C320.0 65.1 315.2 61.3 311.7 58.8 C308.2 56.2 303.9 53.9 302.3 52.9 Z"/></clipPath>
<g clip-path="url(#hrim)">
<path d="M330.0 40.0 L400.0 33.0" stroke-width="0.8"/>
<path d="M330.0 42.6 L400.0 35.6" stroke-width="0.8"/>
<path d="M330.0 45.2 L400.0 38.2" stroke-width="0.8"/>
<path d="M330.0 47.8 L400.0 40.8" stroke-width="0.8"/>
<path d="M330.0 50.4 L400.0 43.4" stroke-width="0.8"/>
<path d="M330.0 53.0 L400.0 46.0" stroke-width="0.8"/>
<path d="M330.0 55.6 L400.0 48.6" stroke-width="0.8"/>
<path d="M330.0 58.2 L400.0 51.2" stroke-width="0.8"/>
<path d="M330.0 60.8 L400.0 53.8" stroke-width="0.8"/>
<path d="M330.0 63.4 L400.0 56.4" stroke-width="0.8"/>
<path d="M330.0 66.0 L400.0 59.0" stroke-width="0.8"/>
<path d="M330.0 68.6 L400.0 61.6" stroke-width="0.8"/>
<path d="M330.0 71.2 L400.0 64.2" stroke-width="0.8"/>
<path d="M330.0 73.8 L400.0 66.8" stroke-width="0.8"/>
<path d="M330.0 76.4 L400.0 69.4" stroke-width="0.8"/>
<path d="M330.0 79.0 L400.0 72.0" stroke-width="0.8"/>
<path d="M330.0 81.6 L400.0 74.6" stroke-width="0.8"/>
<path d="M330.0 84.2 L400.0 77.2" stroke-width="0.8"/>
<path d="M330.0 86.8 L400.0 79.8" stroke-width="0.8"/>
<path d="M330.0 89.4 L400.0 82.4" stroke-width="0.8"/>
<path d="M330.0 92.0 L400.0 85.0" stroke-width="0.8"/>
<path d="M330.0 94.6 L400.0 87.6" stroke-width="0.8"/>
<path d="M330.0 97.2 L400.0 90.2" stroke-width="0.8"/>
<path d="M330.0 99.8 L400.0 92.8" stroke-width="0.8"/>
<path d="M330.0 102.4 L400.0 95.4" stroke-width="0.8"/>
<path d="M330.0 105.0 L400.0 98.0" stroke-width="0.8"/>
<path d="M330.0 107.6 L400.0 100.6" stroke-width="0.8"/>
<path d="M330.0 110.2 L400.0 103.2" stroke-width="0.8"/>
<path d="M330.0 112.8 L400.0 105.8" stroke-width="0.8"/>
<path d="M330.0 115.4 L400.0 108.4" stroke-width="0.8"/>
<path d="M330.0 118.0 L400.0 111.0" stroke-width="0.8"/>
<path d="M330.0 120.6 L400.0 113.6" stroke-width="0.8"/>
<path d="M330.0 123.2 L400.0 116.2" stroke-width="0.8"/>
<path d="M330.0 125.8 L400.0 118.8" stroke-width="0.8"/>
<path d="M330.0 128.4 L400.0 121.4" stroke-width="0.8"/>
<path d="M330.0 131.0 L400.0 124.0" stroke-width="0.8"/>
<path d="M330.0 133.6 L400.0 126.6" stroke-width="0.8"/>
<path d="M330.0 136.2 L400.0 129.2" stroke-width="0.8"/>
<path d="M330.0 138.8 L400.0 131.8" stroke-width="0.8"/>
<path d="M330.0 141.4 L400.0 134.4" stroke-width="0.8"/>
<path d="M330.0 144.0 L400.0 137.0" stroke-width="0.8"/>
<path d="M330.0 146.6 L400.0 139.6" stroke-width="0.8"/>
<path d="M330.0 149.2 L400.0 142.2" stroke-width="0.8"/>
<path d="M330.0 151.8 L400.0 144.8" stroke-width="0.8"/>
<path d="M330.0 154.4 L400.0 147.4" stroke-width="0.8"/>
<path d="M330.0 157.0 L400.0 150.0" stroke-width="0.8"/>
<path d="M330.0 159.6 L400.0 152.6" stroke-width="0.8"/>
<path d="M330.0 162.2 L400.0 155.2" stroke-width="0.8"/>
<path d="M330.0 164.8 L400.0 157.8" stroke-width="0.8"/>
<path d="M330.0 167.4 L400.0 160.4" stroke-width="0.8"/>
<path d="M330.0 170.0 L400.0 163.0" stroke-width="0.8"/>
<path d="M330.0 172.6 L400.0 165.6" stroke-width="0.8"/>
<path d="M330.0 175.2 L400.0 168.2" stroke-width="0.8"/>
<path d="M330.0 177.8 L400.0 170.8" stroke-width="0.8"/>
<path d="M330.0 180.4 L400.0 173.4" stroke-width="0.8"/>
<path d="M330.0 183.0 L400.0 176.0" stroke-width="0.8"/>
<path d="M330.0 185.6 L400.0 178.6" stroke-width="0.8"/>
<path d="M330.0 188.2 L400.0 181.2" stroke-width="0.8"/>
<path d="M330.0 190.8 L400.0 183.8" stroke-width="0.8"/>
<path d="M330.0 193.4 L400.0 186.4" stroke-width="0.8"/>
<path d="M330.0 196.0 L400.0 189.0" stroke-width="0.8"/>
<path d="M330.0 198.6 L400.0 191.6" stroke-width="0.8"/>
<path d="M330.0 201.2 L400.0 194.2" stroke-width="0.8"/>
<path d="M330.0 203.8 L400.0 196.8" stroke-width="0.8"/>
<path d="M330.0 206.4 L400.0 199.4" stroke-width="0.8"/>
</g>
</g>
<path d="M302.3 50.0 C303.7 49.9 308.1 48.7 310.6 49.4 C313.2 50.1 314.5 51.8 317.6 54.1 C320.7 56.5 325.9 60.6 329.4 63.5 C332.9 66.4 335.8 69.2 338.7 71.7 C341.6 74.2 344.2 76.0 347.0 78.7 C349.8 81.4 352.9 85.3 355.2 88.1 C357.5 90.9 358.8 92.7 361.0 95.5 C363.2 98.3 366.0 101.3 368.4 105.2 C370.8 109.1 373.2 115.5 375.2 118.9 C377.2 122.3 378.8 122.7 380.6 125.5 C382.4 128.3 384.5 132.2 386.1 136.0 C387.7 139.8 389.3 144.4 390.2 148.3 C391.1 152.2 391.5 155.5 391.6 159.2 C391.7 162.8 391.6 167.2 390.9 170.2 C390.2 173.2 389.0 175.0 387.5 177.1 C386.0 179.2 383.6 181.1 382.0 182.5 C380.4 183.9 378.6 184.8 377.9 185.3" stroke-width="1.6" fill="none" />
<path d="M302.3 52.9 C303.9 51.0 308.2 56.2 311.7 58.8 C315.2 61.3 320.0 65.1 323.5 68.2 C327.0 71.3 330.0 74.5 332.9 77.6 C335.8 80.7 338.4 83.7 341.1 87.0 C343.8 90.3 346.6 94.2 349.3 97.5 C352.0 100.8 354.7 103.2 357.4 106.5 C360.1 109.8 363.1 114.3 365.6 117.5 C368.1 120.7 370.3 122.4 372.4 125.5 C374.4 128.6 376.4 132.4 377.9 136.0 C379.4 139.6 380.5 143.0 381.3 146.9 C382.1 150.8 382.6 155.3 382.7 159.2 C382.8 163.1 382.5 167.0 382.0 170.2 C381.5 173.4 380.8 176.1 379.9 178.4 C379.0 180.7 378.2 182.1 376.5 183.9 C374.8 185.7 372.2 188.0 369.7 189.4 C367.2 190.8 364.4 191.9 361.4 192.1 C358.4 192.3 354.5 191.7 351.8 190.8 C349.1 189.9 349.2 189.4 345.0 186.6 C340.8 183.8 331.5 178.6 326.6 174.0 C321.8 169.4 318.4 162.9 315.9 159.0 C313.4 155.1 313.1 156.5 311.5 150.3 C309.9 144.1 307.4 132.1 306.0 122.0 C304.6 112.0 303.7 98.7 303.0 90.0 C302.3 81.3 301.9 76.2 301.8 70.0 C301.7 63.8 300.7 54.8 302.3 52.9Z" stroke-width="1.8" fill="#fff" />
<path d="M295.6 64.5 L300.5 62.5 L315.5 163.0 L310.2 164.0Z" stroke-width="1.3" fill="#fff" />
<path d="M295.8 64.5 L310.4 164.0" stroke-width="2.2" fill="none" />
<ellipse cx="346" cy="149" rx="24.5" ry="31" transform="rotate(-22 346 149)" stroke-width="1.8" fill="#fff" />
<path d="M346.8 127.4 C347.3 127.6 348.8 128.0 349.9 128.5 C350.9 129.0 351.9 129.5 352.9 130.1 C353.9 130.8 354.8 131.5 355.7 132.3 C356.6 133.1 357.5 134.0 358.3 134.9 C359.2 135.8 360.0 136.8 360.7 137.9 C361.4 138.9 362.1 140.0 362.7 141.2 C363.3 142.3 363.8 143.5 364.3 144.7 C364.7 145.9 365.1 147.2 365.5 148.4 C365.8 149.7 366.0 150.9 366.2 152.2 C366.4 153.4 366.4 154.7 366.4 155.9 C366.5 157.2 366.4 158.4 366.2 159.6 C366.1 160.8 365.8 161.9 365.5 163.1 C365.2 164.2 364.8 165.2 364.4 166.2 C363.9 167.3 363.4 168.2 362.8 169.1 C362.2 170.0 361.6 170.8 360.9 171.5 C360.1 172.3 359.4 172.9 358.5 173.5 C357.7 174.1 356.9 174.6 355.9 175.0 C355.0 175.4 354.1 175.7 353.1 175.9 C352.1 176.1 351.1 176.2 350.1 176.2 C349.1 176.3 348.1 176.2 347.0 176.0 C346.0 175.8 344.9 175.6 343.9 175.2 C342.9 174.9 341.8 174.4 340.8 173.9 C339.8 173.3 338.8 172.7 337.9 172.0 C336.9 171.3 335.6 170.0 335.1 169.6" stroke-width="1.2" fill="none" />
<ellipse cx="345" cy="153" rx="14.5" ry="19" transform="rotate(-22 345 153)" stroke-width="1" fill="#000" />
<ellipse cx="346.6" cy="160.8" rx="9.3" ry="10.2" transform="rotate(-22 346.6 160.8)" stroke-width="1" fill="#fff" />
<clipPath id="cspl"><ellipse cx="346.6" cy="160.8" rx="9.3" ry="10.2" transform="rotate(-22 346.6 160.8)"/></clipPath>
<g clip-path="url(#cspl)">
<path d="M336.0 152.5 L360.0 155.0" stroke-width="1.3" fill="none" stroke-dasharray="6 1.5 4 1.5"/>
<path d="M336.0 155.7 L360.0 158.2" stroke-width="1.3" fill="none" stroke-dasharray="6 1.5 4 1.5"/>
<path d="M336.0 158.9 L360.0 161.4" stroke-width="1.3" fill="none" stroke-dasharray="6 1.5 4 1.5"/>
<path d="M336.0 162.1 L360.0 164.6" stroke-width="1.3" fill="none" stroke-dasharray="6 1.5 4 1.5"/>
<path d="M336.0 165.3 L360.0 167.8" stroke-width="1.3" fill="none" stroke-dasharray="6 1.5 4 1.5"/>
<path d="M336.0 168.5 L360.0 171.0" stroke-width="1.3" fill="none" stroke-dasharray="6 1.5 4 1.5"/>
</g>
<path d="M336.4 124.2 l5.5 0.3 l0 5 l-5.5 -0.3Z" stroke-width="1" fill="#000" />
<ellipse cx="330.7" cy="159.1" rx="2.4" ry="2.6" transform="rotate(0 330.7 159.1)" stroke-width="1.6" fill="#fff" />
<ellipse cx="365.7" cy="167.7" rx="2.4" ry="2.6" transform="rotate(0 365.7 167.7)" stroke-width="1.6" fill="#fff" />
<ellipse cx="321.5" cy="105.6" rx="2.1" ry="2.1" transform="rotate(0 321.5 105.6)" stroke-width="1.2" fill="#fff" />
<path d="M370.1 99.5 C371.2 98.2 377.8 94.4 380.0 93.0 C382.2 91.6 387.2 88.2 389.0 87.3 C390.8 86.4 394.0 85.6 395.2 85.6 C396.4 85.6 398.7 86.1 399.6 87.3 C400.5 88.5 402.8 94.6 403.1 96.1 C403.4 97.6 404.2 98.9 402.3 100.5 C400.4 102.1 389.3 108.9 386.4 110.2 C383.5 111.5 379.1 112.0 377.6 112.0 C376.1 112.0 374.0 111.1 373.2 110.2 C372.4 109.3 371.0 105.2 370.6 104.0 C370.2 102.8 369.0 100.8 370.1 99.5Z" stroke-width="1.6" fill="#fff" />
<path d="M376.0 103.5 L390.0 95.5" stroke-width="4.2" fill="none" />
<path d="M388.5 92.0 C389.1 91.0 391.8 89.9 393.0 89.8 C394.2 89.7 396.8 90.2 397.5 91.0 C398.2 91.8 398.7 94.4 398.5 95.5 C398.3 96.6 397.0 98.8 396.0 99.5 C395.0 100.2 392.0 100.8 391.0 100.5 C390.0 100.2 388.8 98.1 388.5 97.0 C388.2 95.9 387.9 93.0 388.5 92.0Z" stroke-width="1" fill="#000" />
<ellipse cx="379" cy="101.5" rx="0.7" ry="0.7" transform="rotate(0 379 101.5)" stroke-width="0.6" fill="#fff" stroke="#fff"/>
<ellipse cx="383" cy="99.2" rx="0.7" ry="0.7" transform="rotate(0 383 99.2)" stroke-width="0.6" fill="#fff" stroke="#fff"/>
<ellipse cx="387" cy="97" rx="0.7" ry="0.7" transform="rotate(0 387 97)" stroke-width="0.6" fill="#fff" stroke="#fff"/>
<path d="M151.0 113.3 L375.0 107.2" stroke-width="1" fill="none" />
<text transform="translate(142.5 118) scale(0.68 1)" font-size="11.3" style="stroke:#000;stroke-width:0.35">8</text>
<path d="M151.0 113.3 L375.0 107.2" stroke-width="1" fill="none" />
<text transform="translate(143.2 137.6) scale(0.68 1)" font-size="11.3" style="stroke:#000;stroke-width:0.35">7</text>
<path d="M151.0 131.3 L160.0 131.3" stroke-width="1" fill="none" />
<path d="M168.7 130.2 L304.3 128.5" stroke-width="1" fill="none" />
<text transform="translate(142.5 157) scale(0.68 1)" font-size="11.3" style="stroke:#000;stroke-width:0.35">6</text>
<path d="M151.0 152.0 L274.4 152.0" stroke-width="1" fill="none" />
<text transform="translate(142.5 173.5) scale(0.68 1)" font-size="11.3" style="stroke:#000;stroke-width:0.35">5</text>
<path d="M151.0 169.0 L155.0 169.0" stroke-width="1" fill="none" />
<path d="M159.5 168.8 L256.8 167.2" stroke-width="1" fill="none" />
<text transform="translate(142.5 187.5) scale(0.68 1)" font-size="11.3" style="stroke:#000;stroke-width:0.35">4</text>
<path d="M151.0 183.0 L241.0 177.7" stroke-width="1" fill="none" />
<text transform="translate(142.5 217.5) scale(0.68 1)" font-size="11.3" style="stroke:#000;stroke-width:0.35">2</text>
<path d="M151.0 211.0 L179.0 211.0" stroke-width="1" fill="none" />
<text transform="translate(142.5 255) scale(0.68 1)" font-size="11.3" style="stroke:#000;stroke-width:0.35">1</text>
<path d="M151.0 251.0 L170.5 251.0" stroke-width="1" fill="none" />
<text transform="translate(142.5 275) scale(0.68 1)" font-size="11.3" style="stroke:#000;stroke-width:0.35">3</text>
<path d="M151.0 269.3 L239.0 264.0 L256.8 218.2" stroke-width="1" fill="none" />
<path d="M280.2 148.4 C283.0 148.1 287.6 148.6 291.3 151.2 C295.0 153.8 299.1 158.9 302.5 164.2 C305.9 169.5 309.5 177.5 311.8 182.8 C314.1 188.1 315.6 192.4 316.4 195.8 C317.2 199.2 317.2 201.0 316.4 203.2 C315.6 205.4 313.8 207.6 311.8 208.8 C309.8 210.0 307.1 210.9 304.3 210.6 C301.5 210.3 299.6 208.8 295.0 206.9 C290.4 205.1 280.8 201.7 276.5 199.5 C272.2 197.3 270.6 196.7 269.0 193.9 C267.4 191.1 267.0 187.1 267.2 182.8 C267.4 178.5 268.8 172.9 270.0 167.9 C271.2 162.9 272.9 156.2 274.6 153.0 C276.3 149.8 277.4 148.7 280.2 148.4Z" stroke-width="2" fill="#fff" />
<path d="M291.0 154.5 C292.5 156.4 297.0 161.2 300.0 166.0 C303.0 170.8 306.8 178.5 309.0 183.5 C311.2 188.5 312.8 192.8 313.5 196.0 C314.2 199.2 313.5 201.8 313.5 203.0" stroke-width="1.3" fill="none" />
<path d="M307.0 187.0 L312.5 186.0" stroke-width="1.3" fill="none" />
<path d="M308.3 190.0 L313.2 189.0" stroke-width="1.3" fill="none" />
<path d="M309.6 193.0 L313.9 192.0" stroke-width="1.3" fill="none" />
<path d="M310.9 196.0 L314.6 195.0" stroke-width="1.3" fill="none" />
<path d="M312.2 199.0 L315.3 198.0" stroke-width="1.3" fill="none" />
<path d="M313.5 202.0 L316.0 201.0" stroke-width="1.3" fill="none" />
<path d="M286 185 m-14 0 a14 17.5 -15 1 0 28 0 a14 17.5 -15 1 0 -28 0" stroke-width="3" fill="#fff" />
<path d="M287 186 m-10.5 0 a10.5 14 -15 1 0 21 0 a10.5 14 -15 1 0 -21 0" stroke-width="1.2" fill="#fff" />
<path d="M272.0 177.0 L282.0 170.0 L298.0 188.0 L300.0 198.0 L290.0 203.0 L276.0 188.0Z" stroke-width="1.5" fill="#fff" />
<path d="M272.0 177.0 L282.0 170.0 L284.0 177.0 L276.0 184.0Z" stroke-width="1" fill="#000" />
<path d="M284.0 177.0 L298.0 192.0 L290.0 198.0 L278.0 186.0Z" stroke-width="1" fill="none" />
<path d="M279.0 180.0 L287.0 175.0" stroke-width="0.7" fill="none" />
<path d="M282.5 183.8 L289.5 178.8" stroke-width="0.7" fill="none" />
<path d="M286.0 187.6 L292.0 182.6" stroke-width="0.7" fill="none" />
<path d="M289.5 191.4 L294.5 186.4" stroke-width="0.7" fill="none" />
<path d="M291.0 196.0 L299.0 192.0" stroke-width="2" fill="none" />
<path d="M279.8 158.6 m-2.3 0 a2.3 2.8 -20 1 0 4.6 0 a2.3 2.8 -20 1 0 -4.6 0" stroke-width="1.5" fill="none" />
<path d="M305.3 205 m-2.3 0 a2.3 2.8 -20 1 0 4.6 0 a2.3 2.8 -20 1 0 -4.6 0" stroke-width="1.5" fill="none" />
<path d="M253.8 178.0 C253.5 178.9 249.9 182.5 249.0 182.8 C248.0 183.0 243.1 181.7 242.4 181.0 C241.7 180.3 240.4 175.4 240.6 174.4 C240.9 173.5 244.5 169.9 245.4 169.6 C246.4 169.4 251.3 170.7 252.0 171.4 C252.7 172.1 254.0 177.0 253.8 178.0Z" stroke-width="2.2" fill="#fff" />
<path d="M245.8 176.9 L253.3 175.5 L252.3 181.0 L247.9 182.7 L243.8 181.0Z" stroke-width="0.8" fill="#000" />
<path d="M247.2 176.2 m-3.06 0 a3.06 3.4 0 1 0 6.12 0 a3.06 3.4 0 1 0 -6.12 0" stroke-width="1.3" fill="#fff" />
<path d="M245.8 170.1 L245.8 173.5" stroke-width="1.2" fill="none" />
<path d="M267.5 169.3 C267.3 170.1 264.6 172.8 263.8 173.0 C263.1 173.2 259.4 172.2 258.8 171.7 C258.3 171.1 257.3 167.4 257.5 166.7 C257.7 165.9 260.4 163.2 261.2 163.0 C261.9 162.8 265.6 163.8 266.2 164.3 C266.7 164.9 267.7 168.6 267.5 169.3Z" stroke-width="2.2" fill="#fff" />
<path d="M261.5 168.5 L267.2 167.5 L266.4 171.6 L263.0 172.9 L259.9 171.6Z" stroke-width="0.8" fill="#000" />
<path d="M262.5 168 m-2.3400000000000003 0 a2.3400000000000003 2.6 0 1 0 4.680000000000001 0 a2.3400000000000003 2.6 0 1 0 -4.680000000000001 0" stroke-width="1.3" fill="#fff" />
<path d="M261.5 163.3 L261.5 165.9" stroke-width="1.2" fill="none" />
<path d="M262.5 168 m-3.6399999999999997 0 a3.6399999999999997 4.16 0 1 0 7.279999999999999 0 a3.6399999999999997 4.16 0 1 0 -7.279999999999999 0" stroke-width="1.6" fill="none" />
<path d="M279.8 224.5 C279.5 225.4 275.9 229.0 275.0 229.3 C274.0 229.5 269.1 228.2 268.4 227.5 C267.7 226.8 266.4 221.9 266.6 220.9 C266.9 220.0 270.5 216.4 271.4 216.1 C272.4 215.9 277.3 217.2 278.0 217.9 C278.7 218.6 280.0 223.5 279.8 224.5Z" stroke-width="2.2" fill="#fff" />
<path d="M271.8 223.4 L279.3 222.0 L278.3 227.5 L273.9 229.2 L269.8 227.5Z" stroke-width="0.8" fill="#000" />
<path d="M273.2 222.7 m-3.06 0 a3.06 3.4 0 1 0 6.12 0 a3.06 3.4 0 1 0 -6.12 0" stroke-width="1.3" fill="#fff" />
<path d="M271.8 216.6 L271.8 220.0" stroke-width="1.2" fill="none" />
<path d="M293.0 216.3 C292.8 217.1 290.1 219.8 289.3 220.0 C288.6 220.2 284.9 219.2 284.3 218.7 C283.8 218.1 282.8 214.4 283.0 213.7 C283.2 212.9 285.9 210.2 286.7 210.0 C287.4 209.8 291.1 210.8 291.7 211.3 C292.2 211.9 293.2 215.6 293.0 216.3Z" stroke-width="2.2" fill="#fff" />
<path d="M287.0 215.5 L292.7 214.5 L291.9 218.6 L288.5 219.9 L285.4 218.6Z" stroke-width="0.8" fill="#000" />
<path d="M288 215 m-2.3400000000000003 0 a2.3400000000000003 2.6 0 1 0 4.680000000000001 0 a2.3400000000000003 2.6 0 1 0 -4.680000000000001 0" stroke-width="1.3" fill="#fff" />
<path d="M287.0 210.3 L287.0 212.9" stroke-width="1.2" fill="none" />
<path d="M288 215 m-3.6399999999999997 0 a3.6399999999999997 4.16 0 1 0 7.279999999999999 0 a3.6399999999999997 4.16 0 1 0 -7.279999999999999 0" stroke-width="1.6" fill="none" />
<path d="M231.8 204.5 C232.4 201.9 233.5 198.0 234.8 195.7 C236.1 193.4 237.8 192.0 239.7 190.8 C241.6 189.6 244.2 188.5 246.5 188.3 C248.8 188.1 251.3 188.6 253.4 189.8 C255.5 191.0 257.5 193.4 259.2 195.7 C260.9 198.0 262.6 201.2 263.6 203.5 C264.6 205.8 265.0 207.5 265.1 209.4 C265.2 211.3 264.9 213.4 264.1 215.2 C263.3 217.0 261.8 218.8 260.2 220.1 C258.6 221.4 256.5 222.4 254.4 223.0 C252.3 223.6 249.9 223.7 247.5 223.5 C245.1 223.3 242.0 223.0 239.7 222.1 C237.4 221.2 235.2 220.0 233.8 218.2 C232.4 216.4 231.7 213.6 231.4 211.3 C231.1 209.0 231.2 207.1 231.8 204.5Z" stroke-width="2.2" fill="#fff" />
<path d="M236.0 197.0 C236.3 196.1 239.7 195.1 241.0 195.5 C242.3 195.9 244.5 198.8 246.0 200.0 C247.5 201.2 250.5 203.2 252.0 204.5 C253.5 205.8 255.9 208.0 257.0 209.5 C258.1 211.0 259.6 214.6 260.0 216.0 C260.4 217.4 260.9 219.2 260.2 220.1 C259.5 221.0 256.1 222.5 254.4 223.0 C252.7 223.5 249.2 223.6 247.5 223.5 C245.8 223.4 242.2 223.8 242.0 222.5 C241.8 221.2 245.7 216.2 246.0 214.0 C246.3 211.8 244.9 207.6 244.0 206.0 C243.1 204.4 240.1 203.2 239.0 202.0 C237.9 200.8 235.7 197.9 236.0 197.0Z" stroke-width="1" fill="#000" />
<path d="M241.0 192.0 C242.2 191.8 245.7 190.2 248.0 190.5 C250.3 190.8 253.0 192.4 255.0 194.0 C257.0 195.6 259.2 199.0 260.0 200.0" stroke-width="1.2" fill="none" />
<path d="M243.0 196.0 L249.0 199.5" stroke-width="1" fill="none" />
<path d="M258.0 212.0 L263.5 210.0" stroke-width="1.2" fill="none" />
<path d="M257.5 216.5 L263.0 215.0" stroke-width="1.2" fill="none" />
<ellipse cx="240" cy="212" rx="8.2" ry="10.8" transform="rotate(-15 240 212)" stroke-width="2.2" fill="#fff" />
<ellipse cx="240.3" cy="212.2" rx="5.6" ry="7.6" transform="rotate(-15 240.3 212.2)" stroke-width="2.6" fill="#fff" />
<ellipse cx="240.5" cy="212.4" rx="2.2" ry="3" transform="rotate(-15 240.5 212.4)" stroke-width="1" fill="#000" />
<path d="M180.3 209.0 C180.7 208.5 183.7 207.5 184.7 206.9 C185.7 206.3 189.8 204.1 190.5 203.2 C191.2 202.3 191.3 198.6 192.0 198.0 C192.7 197.4 196.2 197.1 197.2 197.3 C198.2 197.5 200.8 199.4 201.6 200.3 C202.4 201.2 204.2 205.2 205.2 206.1 C206.1 207.0 210.1 208.9 211.1 209.1 C212.1 209.3 214.7 208.1 215.5 208.3 C216.3 208.5 218.8 210.3 219.2 211.3 C219.6 212.3 220.0 216.7 219.9 217.9 C219.8 219.2 218.0 222.8 218.4 223.8 C218.8 224.8 223.1 227.5 224.3 228.2 C225.5 228.9 229.6 230.4 230.2 231.1 C230.8 231.8 230.6 234.8 230.2 235.5 C229.8 236.2 226.2 237.7 225.8 238.4 C225.4 239.1 225.7 241.8 225.8 242.8 C225.9 243.8 226.5 247.4 226.5 248.7 C226.5 250.0 226.5 255.1 225.8 256.0 C225.1 256.9 221.1 257.6 219.9 257.5 C218.7 257.4 214.9 254.4 214.0 254.6 C213.1 254.8 212.0 258.4 211.1 259.0 C210.2 259.6 206.1 260.5 205.2 260.4 C204.3 260.2 202.9 258.4 202.3 257.5 C201.7 256.6 200.1 252.3 199.4 251.6 C198.7 250.9 196.2 250.5 195.0 250.2 C193.8 249.9 188.9 249.4 187.6 248.7 C186.3 248.0 182.4 244.3 181.7 242.8 C181.0 241.3 180.3 235.6 180.3 234.0 C180.3 232.4 181.7 228.2 181.7 226.7 C181.7 225.2 180.4 220.9 180.3 219.4 C180.2 217.9 180.3 213.0 180.3 212.0 C180.3 211.0 179.9 209.5 180.3 209.0Z" stroke-width="2" fill="#fff" />
<path d="M185.2 213.2 C185.6 212.8 187.9 212.0 188.8 211.5 C189.6 211.1 192.8 209.3 193.4 208.6 C194.0 207.8 194.1 204.9 194.6 204.4 C195.1 203.9 198.0 203.7 198.8 203.8 C199.5 204.0 201.6 205.5 202.3 206.2 C202.9 206.9 204.4 210.2 205.2 210.9 C205.9 211.6 209.1 213.1 209.9 213.3 C210.7 213.5 212.8 212.5 213.4 212.6 C214.0 212.8 216.0 214.3 216.4 215.0 C216.7 215.8 217.0 219.3 216.9 220.3 C216.9 221.3 215.4 224.2 215.7 225.0 C216.1 225.9 219.5 228.0 220.4 228.6 C221.4 229.1 224.7 230.3 225.2 230.9 C225.6 231.5 225.5 233.8 225.2 234.4 C224.8 235.0 222.0 236.1 221.6 236.7 C221.3 237.3 221.6 239.4 221.6 240.2 C221.7 241.1 222.2 243.9 222.2 245.0 C222.2 246.0 222.2 250.1 221.6 250.8 C221.1 251.5 217.9 252.1 216.9 252.0 C216.0 251.9 212.9 249.6 212.2 249.7 C211.5 249.8 210.6 252.7 209.9 253.2 C209.2 253.7 205.9 254.4 205.2 254.3 C204.5 254.2 203.3 252.7 202.8 252.0 C202.4 251.3 201.1 247.9 200.5 247.3 C199.9 246.7 197.9 246.4 197.0 246.2 C196.1 245.9 192.1 245.6 191.1 245.0 C190.0 244.4 186.9 241.4 186.4 240.2 C185.8 239.1 185.2 234.5 185.2 233.2 C185.2 231.9 186.4 228.5 186.4 227.4 C186.4 226.2 185.4 222.7 185.2 221.5 C185.1 220.3 185.2 216.4 185.2 215.6 C185.2 214.8 184.9 213.6 185.2 213.2Z" stroke-width="2.4" fill="#111" />
<path d="M191.2 218.2 C191.4 218.0 193.1 217.4 193.6 217.1 C194.2 216.7 196.5 215.5 196.9 215.0 C197.3 214.5 197.3 212.4 197.7 212.1 C198.1 211.7 200.1 211.6 200.6 211.7 C201.2 211.8 202.6 212.9 203.1 213.4 C203.5 213.9 204.6 216.1 205.1 216.6 C205.6 217.1 207.8 218.2 208.4 218.3 C209.0 218.4 210.4 217.7 210.9 217.8 C211.3 218.0 212.7 219.0 213.0 219.5 C213.2 220.1 213.4 222.5 213.3 223.2 C213.3 223.9 212.3 226.0 212.5 226.5 C212.8 227.1 215.1 228.6 215.8 229.0 C216.5 229.4 218.8 230.2 219.1 230.6 C219.4 231.0 219.4 232.7 219.1 233.1 C218.9 233.5 216.9 234.3 216.6 234.7 C216.4 235.1 216.6 236.6 216.6 237.2 C216.7 237.7 217.0 239.7 217.0 240.5 C217.0 241.2 217.0 244.1 216.6 244.6 C216.3 245.1 214.0 245.5 213.3 245.4 C212.7 245.3 210.5 243.7 210.0 243.8 C209.5 243.9 208.9 245.9 208.4 246.2 C207.9 246.6 205.6 247.1 205.1 247.0 C204.6 246.9 203.8 245.9 203.5 245.4 C203.2 244.9 202.3 242.5 201.9 242.1 C201.5 241.7 200.1 241.5 199.4 241.3 C198.7 241.1 196.0 240.9 195.3 240.5 C194.5 240.1 192.4 238.0 192.0 237.2 C191.5 236.3 191.2 233.1 191.2 232.2 C191.2 231.3 192.0 229.0 192.0 228.2 C192.0 227.3 191.2 224.9 191.2 224.1 C191.1 223.2 191.2 220.5 191.2 219.9 C191.2 219.3 190.9 218.5 191.2 218.2Z" stroke-width="1.2" fill="#fff" />
<path d="M189.7 217.0 L186.7 214.5" stroke-width="1.0" fill="none" stroke="#fff"/>
<path d="M196.9 210.2 L195.4 206.3" stroke-width="1.0" fill="none" stroke="#fff"/>
<path d="M205.1 215.2 L205.1 212.3" stroke-width="1.0" fill="none" stroke="#fff"/>
<path d="M213.8 218.4 L215.5 216.2" stroke-width="1.0" fill="none" stroke="#fff"/>
<path d="M217.0 228.9 L219.3 228.7" stroke-width="1.0" fill="none" stroke="#fff"/>
<path d="M217.9 235.2 L220.4 236.2" stroke-width="1.0" fill="none" stroke="#fff"/>
<path d="M217.9 246.1 L220.4 249.2" stroke-width="1.0" fill="none" stroke="#fff"/>
<path d="M208.8 248.0 L209.5 251.5" stroke-width="1.0" fill="none" stroke="#fff"/>
<path d="M201.5 243.4 L200.9 246.0" stroke-width="1.0" fill="none" stroke="#fff"/>
<path d="M190.6 237.9 L187.8 239.5" stroke-width="1.0" fill="none" stroke="#fff"/>
<path d="M189.7 223.4 L186.7 222.2" stroke-width="1.0" fill="none" stroke="#fff"/>
<path d="M193.0 201.0 L198.0 206.0" stroke-width="1.5" fill="none" />
<path d="M214.0 211.0 L216.0 217.0" stroke-width="1.5" fill="none" />
<path d="M226.0 232.0 L228.0 236.0" stroke-width="1.5" fill="none" />
<path d="M221.0 248.0 L223.0 255.0" stroke-width="1.8" fill="none" />
<path d="M204.0 255.0 L208.0 259.0" stroke-width="1.8" fill="none" />
<path d="M184.0 231.0 C184.2 229.1 186.3 227.5 188.0 226.7 C189.7 225.9 199.0 223.1 200.8 223.0 C202.6 222.9 205.2 225.0 206.0 226.0 C206.8 227.0 208.3 231.6 208.5 233.0 C208.7 234.4 207.7 239.0 207.5 240.0 C207.3 241.0 208.2 242.0 206.7 242.8 C205.1 243.7 194.1 248.2 192.0 248.5 C189.9 248.8 186.8 247.8 186.0 246.0 C185.2 244.2 183.8 232.9 184.0 231.0Z" stroke-width="1.6" fill="#fff" />
<path d="M200.8 223.0 C201.5 223.3 203.9 223.7 205.0 225.0 C206.1 226.3 207.1 228.8 207.5 231.0 C207.9 233.2 207.8 236.1 207.5 238.0 C207.2 239.9 206.2 241.8 206.0 242.5" stroke-width="1.2" fill="none" />
<path d="M188 240.3 m-6.2 0 a6.2 8.5 -15 1 0 12.4 0 a6.2 8.5 -15 1 0 -12.4 0" stroke-width="2.2" fill="#fff" />
<path d="M188.6 240.6 m-3 0 a3 4.2 -15 1 0 6 0 a3 4.2 -15 1 0 -6 0" stroke-width="1.2" fill="#000" />
<path d="M194.0 245.0 L206.0 240.5" stroke-width="0.7" fill="none" />
<path d="M195.5 244.6 L206.4 239.6" stroke-width="0.7" fill="none" />
<path d="M197.0 244.2 L206.8 238.7" stroke-width="0.7" fill="none" />
<path d="M162.0 262.5 L180.5 249.5" stroke-width="4.8" fill="none" />
<path d="M164.0 260.0 L179.0 249.8" stroke-width="0.8" fill="none" stroke="#fff"/>
<path d="M840.8 10.2 C842.4 10.3 843.8 10.3 846.3 12.5 C848.8 14.7 852.6 19.1 855.7 23.5 C858.8 27.9 862.2 33.9 865.1 39.1 C868.0 44.3 871.2 50.6 873.0 54.8 C874.8 59.0 875.9 61.9 876.1 64.2 C876.4 66.6 875.8 67.6 874.5 68.9 C873.2 70.2 870.6 71.5 868.2 72.0 C865.9 72.5 864.0 72.2 860.4 72.0 C856.8 71.8 850.7 72.1 846.3 70.5 C841.9 68.9 836.9 65.0 833.8 62.6 C830.7 60.2 829.1 59.0 827.5 56.4 C825.9 53.8 824.8 50.6 824.4 47.0 C824.0 43.4 824.4 38.4 825.2 34.5 C826.0 30.6 827.7 26.6 829.1 23.5 C830.5 20.4 832.5 17.7 833.8 15.7 C835.1 13.7 835.7 12.6 836.9 11.7 C838.1 10.8 839.2 10.1 840.8 10.2Z" stroke-width="2" fill="#fff" />
<path d="M843.2 14.9 C845.0 17.1 850.5 22.8 854.1 28.2 C857.8 33.5 862.2 41.5 865.1 47.0 C868.0 52.5 870.2 57.9 871.4 61.1 C872.5 64.3 871.9 65.2 872.0 66.0" stroke-width="1.5" fill="none" />
<path d="M842.5 50.5 m-14 0 a14 19 -22 1 0 28 0 a14 19 -22 1 0 -28 0" stroke-width="1.6" fill="#fff" />
<path d="M842 51 m-11 0 a11 15 -22 1 0 22 0 a11 15 -22 1 0 -22 0" stroke-width="1.4" fill="none" />
<path d="M841 51.5 m-8 0 a8 11 -22 1 0 16 0 a8 11 -22 1 0 -16 0" stroke-width="1.2" fill="none" />
<path d="M840.5 51.7 m-6 0 a6 8.5 -22 1 0 12 0 a6 8.5 -22 1 0 -12 0" stroke-width="2.4" fill="#000" />
<path d="M840.5 52 m-2.6 0 a2.6 3.6 -22 1 0 5.2 0 a2.6 3.6 -22 1 0 -5.2 0" stroke-width="0.8" fill="#fff" />
<path d="M838.2 17.5 m-3 0 a3 3.2 0 1 0 6 0 a3 3.2 0 1 0 -6 0" stroke-width="1.2" fill="#000" />
<path d="M863.5 67.6 m-3 0 a3 3.2 0 1 0 6 0 a3 3.2 0 1 0 -6 0" stroke-width="1.2" fill="#000" />
<path d="M828 55 m-1.6 0 a1.6 1.6 0 1 0 3.2 0 a1.6 1.6 0 1 0 -3.2 0" stroke-width="1" fill="#000" />
<path d="M503.0 58.8 L516.0 51.5" stroke-width="5.2" fill="none" />
<path d="M504.5 56.8 L515.0 51.0" stroke-width="0.7" fill="none" stroke="#fff"/>
<path d="M503 58.8 m-2 0 a2 2.8 -30 1 0 4 0 a2 2.8 -30 1 0 -4 0" stroke-width="1" fill="#fff" />
<path d="M514.0 47.0 C514.7 45.7 516.7 43.8 518.0 43.0 C519.3 42.2 521.0 42.0 522.0 42.5 C523.0 43.0 523.8 44.6 524.0 46.0 C524.2 47.4 524.1 49.6 523.4 51.0 C522.7 52.4 521.2 53.9 520.0 54.4 C518.8 54.9 517.0 54.6 516.0 54.0 C515.0 53.4 514.3 52.2 514.0 51.0 C513.7 49.8 513.3 48.3 514.0 47.0Z" stroke-width="1.2" fill="#000" />
<path d="M517.0 46.0 L520.0 44.5" stroke-width="1" fill="none" stroke="#fff"/>
<path d="M523.4 54.0 L563.2 51.9" stroke-width="1" fill="none" />
<text transform="translate(567.3 57) scale(0.68 1)" font-size="11.3" style="stroke:#000;stroke-width:0.35">9</text>
<path d="M146.4 420.0 C146.6 418.3 147.0 413.8 147.6 410.0 C148.2 406.2 148.3 401.9 150.0 397.5 C151.7 393.1 153.9 387.3 158.0 383.5 C162.1 379.7 168.7 375.9 174.6 374.5 C180.5 373.1 187.5 374.2 193.4 375.3 C199.3 376.4 204.7 378.5 209.8 381.0 C214.9 383.5 219.6 387.3 223.9 390.5 C228.2 393.7 232.4 396.8 235.6 400.0 C238.8 403.2 241.8 408.3 243.0 410.0 L226 410 L160 440 Z" stroke-width="0" fill="#fff" stroke="none"/>
<path d="M217.0 377.0 C217.5 373.9 218.7 363.3 220.1 358.5 C221.5 353.7 223.0 351.5 225.2 348.3 C227.4 345.1 230.4 341.5 233.3 339.2 C236.2 336.9 239.3 335.5 242.5 334.6 C245.7 333.7 249.2 333.5 252.6 333.6 C256.0 333.7 259.4 334.2 262.8 335.1 C266.2 336.0 269.2 337.1 272.9 338.7 C276.6 340.3 281.1 342.5 285.1 344.8 C289.1 347.1 293.9 350.4 297.0 352.5 C300.1 354.6 301.5 355.2 304.0 357.5 C306.5 359.8 310.7 364.6 312.0 366.0 L296 368 L235 400 Z" stroke-width="0" fill="#fff" stroke="none"/>
<path d="M286.9 342.7 C287.2 340.1 287.3 332.6 288.8 327.0 C290.3 321.4 292.9 314.1 295.7 309.4 C298.5 304.7 301.6 301.2 305.5 298.6 C309.4 296.1 314.3 294.7 319.2 294.1 C324.1 293.6 329.4 294.2 334.8 295.3 C340.2 296.4 348.7 299.7 351.5 300.6 L351.5 317.2 L349.5 321.1 L303.5 344.6 Z" stroke-width="0" fill="#fff" stroke="none"/>
<path d="M146.4 420.0 C146.6 418.3 147.0 413.8 147.6 410.0 C148.2 406.2 148.3 401.9 150.0 397.5 C151.7 393.1 153.9 387.3 158.0 383.5 C162.1 379.7 168.7 375.9 174.6 374.5 C180.5 373.1 187.5 374.2 193.4 375.3 C199.3 376.4 204.7 378.5 209.8 381.0 C214.9 383.5 219.6 387.3 223.9 390.5 C228.2 393.7 232.4 396.8 235.6 400.0 C238.8 403.2 241.8 408.3 243.0 410.0" stroke-width="1.6" fill="none" />
<path d="M217.0 377.0 C217.5 373.9 218.7 363.3 220.1 358.5 C221.5 353.7 223.0 351.5 225.2 348.3 C227.4 345.1 230.4 341.5 233.3 339.2 C236.2 336.9 239.3 335.5 242.5 334.6 C245.7 333.7 249.2 333.5 252.6 333.6 C256.0 333.7 259.4 334.2 262.8 335.1 C266.2 336.0 269.2 337.1 272.9 338.7 C276.6 340.3 281.1 342.5 285.1 344.8 C289.1 347.1 293.9 350.4 297.0 352.5 C300.1 354.6 301.5 355.2 304.0 357.5 C306.5 359.8 310.7 364.6 312.0 366.0" stroke-width="1.6" fill="none" />
<path d="M286.9 342.7 C287.2 340.1 287.3 332.6 288.8 327.0 C290.3 321.4 292.9 314.1 295.7 309.4 C298.5 304.7 301.6 301.2 305.5 298.6 C309.4 296.1 314.3 294.7 319.2 294.1 C324.1 293.6 329.4 294.2 334.8 295.3 C340.2 296.4 348.7 299.7 351.5 300.6" stroke-width="1.6" fill="none" />
<path d="M147.5 418.0 L150.0 427.0" stroke-width="0.7" fill="none" stroke-dasharray="2 1"/>
<path d="M218.0 374.0 L221.5 387.0" stroke-width="0.8" fill="none" />
<path d="M288.5 334.0 L292.5 346.0" stroke-width="0.8" fill="none" />
<path d="M148.9 416.8 L151.4 426.0" stroke-width="0.7" fill="none" stroke-dasharray="2 1"/>
<path d="M219.6 372.6 L223.1 385.8" stroke-width="0.8" fill="none" />
<path d="M290.1 331.4 L294.1 343.9" stroke-width="0.8" fill="none" />
<path d="M150.3 415.6 L152.8 425.0" stroke-width="0.7" fill="none" stroke-dasharray="2 1"/>
<path d="M221.2 371.2 L224.7 384.6" stroke-width="0.8" fill="none" />
<path d="M291.7 328.8 L295.7 341.8" stroke-width="0.8" fill="none" />
<path d="M151.7 414.4 L154.2 424.0" stroke-width="0.7" fill="none" stroke-dasharray="2 1"/>
<path d="M222.8 369.8 L226.3 383.4" stroke-width="0.8" fill="none" />
<path d="M293.3 326.2 L297.3 339.7" stroke-width="0.8" fill="none" />
<path d="M153.1 413.2 L155.6 423.0" stroke-width="0.7" fill="none" stroke-dasharray="2 1"/>
<path d="M224.4 368.4 L227.9 382.2" stroke-width="0.8" fill="none" />
<path d="M294.9 323.6 L298.9 337.6" stroke-width="0.8" fill="none" />
<path d="M154.5 412.0 L157.0 422.0" stroke-width="0.7" fill="none" stroke-dasharray="2 1"/>
<path d="M226.0 367.0 L229.5 381.0" stroke-width="0.8" fill="none" />
<path d="M296.5 321.0 L300.5 335.5" stroke-width="0.8" fill="none" />
<path d="M155.9 410.8 L158.4 421.0" stroke-width="0.7" fill="none" stroke-dasharray="2 1"/>
<path d="M227.6 365.6 L231.1 379.8" stroke-width="0.8" fill="none" />
<path d="M298.1 318.4 L302.1 333.4" stroke-width="0.8" fill="none" />
<path d="M303.0 344.8 L775.2 76.6 L787 89 L787 90.2 L309.4 357.2 Z" stroke-width="0" fill="#fff" stroke="none"/>
<path d="M353.4 316.2 L775.2 76.6" stroke-width="1.1" fill="none" />
<path d="M309.4 355.4 L787.0 88.4 L787.0 92.0 L309.4 361.8 Z" stroke-width="0.6" fill="#000" />
<path d="M311.0 352.8 L785.0 87.8" stroke-width="0.7" fill="none" />
<path d="M785.0 75.6 L806.0 64.5 L811.0 64.2 L813.5 68.0 L813.3 73.5 L788.0 88.0Z" stroke-width="0" fill="#fff" stroke="none"/>
<path d="M775.2 76.6 C776.2 76.6 779.4 76.0 781.0 76.5 C782.6 77.0 784.0 77.5 785.0 79.6 C786.0 81.7 786.7 87.7 787.0 89.3" stroke-width="1.6" fill="none" />
<path d="M785.0 76.0 L806.5 64.5" stroke-width="1.3" fill="none" />
<path d="M806.5 64.5 C807.1 64.3 809.0 63.0 810.0 63.2 C811.0 63.4 811.9 64.5 812.5 65.5 C813.1 66.5 813.5 68.2 813.6 69.5 C813.7 70.8 813.1 72.8 813.0 73.5" stroke-width="1.6" fill="none" />
<path d="M787.5 88.5 L813.0 74.0" stroke-width="2.4" fill="none" />
<path d="M788.0 84.5 L811.0 71.5" stroke-width="0.7" fill="none" />
<path d="M155.8 428.0 L211.0 401.0 L219.0 400.5 L224.0 404.6 L224.0 409.0 L165.0 440.0Z" stroke-width="0" fill="#fff" stroke="none"/>
<path d="M155.8 428.0 C164.0 423.8 195.1 407.1 205.0 402.5 C214.9 397.9 212.3 400.7 215.0 400.6 C217.7 400.5 219.4 401.1 221.0 402.0 C222.6 402.9 223.9 405.3 224.5 406.0" stroke-width="1.2" fill="none" />
<path d="M165.5 441.0 L224.0 410.0" stroke-width="4" fill="none" />
<path d="M163.0 436.5 L222.0 405.5" stroke-width="0.7" fill="none" />
<path d="M229.6 386.6 L274.6 361.0 L290.0 362.0 L294.2 365.0 L295.0 371.0 L237.4 398.3Z" stroke-width="0" fill="#fff" stroke="none"/>
<path d="M229.6 386.6 C237.1 382.3 264.9 365.4 274.6 361.0 C284.3 356.6 284.7 359.8 288.0 360.5 C291.3 361.2 293.2 364.2 294.2 365.0" stroke-width="1.2" fill="none" />
<path d="M238.0 399.3 L295.0 372.0" stroke-width="4" fill="none" />
<path d="M236.0 394.8 L293.0 367.5" stroke-width="0.7" fill="none" />
<path d="M74.0 477.0 L132.3 443.2 L143.0 454.6 L76.0 491.3Z" stroke-width="0" fill="#fff" stroke="none"/>
<path d="M74.0 477.0 L132.3 443.2" stroke-width="1.3" fill="none" />
<path d="M76.0 491.3 L143.0 454.6" stroke-width="3" fill="none" />
<path d="M74.8 484.2 m-4 0 a4 6.4 -28 1 0 8 0 a4 6.4 -28 1 0 -8 0" stroke-width="2" fill="#fff" />
<path d="M79.5 478.5 L99.0 468.0 L101.0 472.5 L81.0 483.0Z" stroke-width="1" fill="#000" />
<path d="M82.0 479.3 L99.0 470.3" stroke-width="0.5" fill="none" stroke="#fff"/>
<path d="M82.0 480.6 L99.0 471.6" stroke-width="0.5" fill="none" stroke="#fff"/>
<path d="M82.0 481.9 L99.0 472.9" stroke-width="0.5" fill="none" stroke="#fff"/>
<path d="M79.0 488.0 L140.0 455.0" stroke-width="1.2" fill="none" />
<path d="M136.7 420.3 L140.3 419.4 140.3 419.4 C141.3 420.3 143.9 422.8 146.4 424.7 C148.9 426.6 152.0 428.3 155.2 430.8 C158.4 433.3 162.9 436.8 165.8 439.6 C168.8 442.4 170.9 444.8 172.9 447.6 C174.9 450.4 176.8 453.5 178.1 456.4 C179.4 459.3 180.4 462.3 180.8 465.2 C181.2 468.1 181.5 471.4 180.8 474.0 C180.1 476.6 178.0 479.7 176.4 481.0 C174.8 482.3 173.2 482.6 171.1 482.0 C169.0 481.4 166.3 479.1 164.0 477.5 C161.7 475.9 158.9 474.6 157.0 472.2 C155.1 469.8 153.5 466.3 152.6 463.4 C151.7 460.5 151.6 456.7 151.4 454.6 C151.2 452.5 151.6 451.6 151.7 451.0 L136.7 442.3 Z" stroke-width="0" fill="#fff" stroke="none"/>
<path d="M136.7 442.3 L136.7 420.3 L140.3 419.4" stroke-width="1.6" fill="none" />
<path d="M140.3 419.4 C141.3 420.3 143.9 422.8 146.4 424.7 C148.9 426.6 152.0 428.3 155.2 430.8 C158.4 433.3 162.9 436.8 165.8 439.6 C168.8 442.4 170.9 444.8 172.9 447.6 C174.9 450.4 176.8 453.5 178.1 456.4 C179.4 459.3 180.4 462.3 180.8 465.2 C181.2 468.1 181.5 471.4 180.8 474.0 C180.1 476.6 178.0 479.7 176.4 481.0 C174.8 482.3 173.2 482.6 171.1 482.0 C169.0 481.4 166.3 479.1 164.0 477.5 C161.7 475.9 158.9 474.6 157.0 472.2 C155.1 469.8 153.5 466.3 152.6 463.4 C151.7 460.5 151.6 456.7 151.4 454.6 C151.2 452.5 151.6 451.6 151.7 451.0" stroke-width="1.6" fill="none" />
<path d="M146.4 424.7 L165.8 439.6" stroke-width="3" fill="none" />
<path d="M235.6 400.0 C237.2 401.9 242.5 407.7 245.0 411.6 C247.5 415.5 250.0 419.5 250.8 423.4 C251.6 427.3 251.1 432.3 249.7 435.0 C248.3 437.7 245.4 439.8 242.6 439.8 C239.8 439.8 235.8 437.0 233.0 435.0 C230.2 433.0 227.7 430.7 226.0 428.0 C224.3 425.3 223.4 421.4 222.7 418.7 C221.9 416.0 221.7 412.8 221.5 411.6 Z" stroke-width="0" fill="#fff" stroke="none"/>
<path d="M209.8 381.0 C212.2 382.6 219.6 387.3 223.9 390.5 C228.2 393.7 232.1 396.5 235.6 400.0 C239.1 403.5 242.5 407.7 245.0 411.6 C247.5 415.5 250.0 419.5 250.8 423.4 C251.6 427.3 251.1 432.3 249.7 435.0 C248.3 437.7 245.4 439.8 242.6 439.8 C239.8 439.8 235.8 437.0 233.0 435.0 C230.2 433.0 227.7 430.7 226.0 428.0 C224.3 425.3 223.4 421.4 222.7 418.7 C221.9 416.0 221.7 412.8 221.5 411.6" stroke-width="1.6" fill="none" />
<path d="M304.0 357.5 C305.6 359.1 311.0 363.5 313.8 367.0 C316.6 370.5 319.1 374.8 320.6 378.7 C322.1 382.6 322.9 387.2 322.6 390.5 C322.3 393.8 320.8 396.8 318.7 398.3 C316.6 399.8 312.6 400.0 309.8 399.3 C307.0 398.6 304.5 396.5 302.0 394.4 C299.5 392.3 296.8 389.5 295.0 386.6 C293.2 383.7 291.7 379.4 291.2 376.8 C290.7 374.2 292.0 372.0 292.2 371.0 Z" stroke-width="0" fill="#fff" stroke="none"/>
<path d="M285.1 344.8 C287.1 346.1 293.9 350.4 297.0 352.5 C300.1 354.6 301.2 355.1 304.0 357.5 C306.8 359.9 311.0 363.5 313.8 367.0 C316.6 370.5 319.1 374.8 320.6 378.7 C322.1 382.6 322.9 387.2 322.6 390.5 C322.3 393.8 320.8 396.8 318.7 398.3 C316.6 399.8 312.6 400.0 309.8 399.3 C307.0 398.6 304.5 396.5 302.0 394.4 C299.5 392.3 296.8 389.5 295.0 386.6 C293.2 383.7 291.7 379.4 291.2 376.8 C290.7 374.2 292.0 372.0 292.2 371.0" stroke-width="1.6" fill="none" />
<path d="M303.5 344.6 L349.5 321.1" stroke-width="1.1" fill="none" />
<path d="M351.5 300.6 L351.5 317.2 L349.5 321.1" stroke-width="2" fill="none" />
<path d="M353.4 316.2 L360.0 312.5" stroke-width="1.1" fill="none" />
<path d="M131.5 448.0 C131.2 446.0 132.6 444.1 134.0 443.0 C135.4 441.9 137.3 441.6 140.0 441.4 C142.7 441.2 147.9 441.1 150.0 442.0 C152.1 442.9 152.2 445.3 152.6 447.0 C153.0 448.7 154.0 450.7 152.6 452.0 C151.2 453.3 146.8 454.1 144.0 454.6 C141.2 455.1 138.1 456.1 136.0 455.0 C133.9 453.9 131.8 450.0 131.5 448.0Z" stroke-width="1.4" fill="#fff" />
<path d="M142.0 452.0 L152.4 449.5 L152.6 452.0 L144.0 454.6 L138.0 455.0Z" stroke-width="0.8" fill="#000" />
<path d="M139.0 441.6 C139.5 442.1 141.2 443.3 142.0 444.5 C142.8 445.7 143.3 447.4 143.5 449.0 C143.7 450.6 143.1 453.2 143.0 454.0" stroke-width="1.1" fill="none" />
<path d="M378.9 325.0 L398.5 349.5" stroke-width="1" fill="none" />
<text transform="translate(397.5 362) scale(0.68 1)" font-size="11.3" style="stroke:#000;stroke-width:0.35">12</text>
<path d="M614.7 148.7 C615.3 147.0 616.6 141.6 618.5 138.5 C620.4 135.4 623.1 132.3 625.9 130.1 C628.7 127.9 631.8 126.4 635.2 125.4 C638.6 124.4 643.0 124.0 646.4 124.0 C649.8 124.0 653.1 124.7 655.7 125.4 C658.3 126.1 661.1 127.7 662.2 128.2 L661.3 140.3 L664.0 146.5 L667.5 153.0 L668.4 159.0 L640.5 173.5 L616.0 152.0Z" stroke-width="0" fill="#fff" stroke="none"/>
<path d="M614.7 148.7 C615.3 147.0 616.6 141.6 618.5 138.5 C620.4 135.4 623.1 132.3 625.9 130.1 C628.7 127.9 631.8 126.4 635.2 125.4 C638.6 124.4 643.0 124.0 646.4 124.0 C649.8 124.0 653.1 124.7 655.7 125.4 C658.3 126.1 661.1 127.7 662.2 128.2" stroke-width="2" fill="none" />
<path d="M662.2 128.2 C662.1 129.5 661.8 133.6 661.8 136.0 C661.8 138.4 661.6 140.8 662.0 142.5 C662.4 144.2 663.1 144.8 664.0 146.5 C664.9 148.2 666.8 150.9 667.5 153.0 C668.2 155.1 668.2 158.0 668.4 159.0" stroke-width="2.2" fill="none" />
<path d="M629.6 158.0 C631.3 156.9 636.6 153.4 640.0 151.5 C643.4 149.6 647.0 147.5 650.0 146.5 C653.0 145.5 655.8 145.2 658.0 145.5 C660.2 145.8 661.6 147.1 663.0 148.5 C664.4 149.9 665.9 153.1 666.5 154.0" stroke-width="1.4" fill="none" />
<path d="M668.4 158.5 L640.5 172.5" stroke-width="4.2" fill="none" />
<path d="M645.0 168.5 L666.0 158.0" stroke-width="0.7" fill="none" stroke="#fff"/>
<path d="M634.0 164.5 L665.0 151.5" stroke-width="0.6" fill="none" />
<path d="M636.0 167.5 L666.5 155.0" stroke-width="0.6" fill="none" />
<path d="M615.5 148.0 L620.5 157.0" stroke-width="0.8" fill="none" stroke-dasharray="3 1"/>
<path d="M617.3 146.5 L622.3 155.5" stroke-width="0.8" fill="none" stroke-dasharray="3 1"/>
<path d="M619.1 145.0 L624.1 154.0" stroke-width="0.8" fill="none" stroke-dasharray="3 1"/>
<path d="M620.9 143.5 L625.9 152.5" stroke-width="0.8" fill="none" stroke-dasharray="3 1"/>
<path d="M622.7 142.0 L627.7 151.0" stroke-width="0.8" fill="none" stroke-dasharray="3 1"/>
<path d="M624.5 140.5 L629.5 149.5" stroke-width="0.8" fill="none" stroke-dasharray="3 1"/>
<path d="M607.3 171.0 L607.3 152.4 L613.8 151.5 C615.2 152.4 619.1 154.8 622.2 157.0 C625.3 159.2 629.8 162.3 632.4 164.5 C635.0 166.7 636.1 167.5 638.0 170.0 C639.9 172.5 642.1 176.3 643.6 179.4 C645.1 182.5 646.5 185.9 647.3 188.7 C648.1 191.5 648.5 193.8 648.2 196.1 C647.9 198.4 646.8 201.3 645.4 202.7 C644.0 204.1 641.9 204.3 639.9 204.5 C637.9 204.7 635.2 204.2 633.3 203.6 C631.4 203.0 629.5 201.3 628.7 200.8 L615.0 200.0 L607.0 178.0 Z" stroke-width="0" fill="#fff" stroke="none"/>
<path d="M607.3 171.0 L607.3 152.4 L613.8 151.5" stroke-width="1.6" fill="none" />
<path d="M613.8 151.5 C615.2 152.4 619.1 154.8 622.2 157.0 C625.3 159.2 629.8 162.3 632.4 164.5 C635.0 166.7 636.1 167.5 638.0 170.0 C639.9 172.5 642.1 176.3 643.6 179.4 C645.1 182.5 646.5 185.9 647.3 188.7 C648.1 191.5 648.5 193.8 648.2 196.1 C647.9 198.4 646.8 201.3 645.4 202.7 C644.0 204.1 641.9 204.3 639.9 204.5 C637.9 204.7 635.2 204.2 633.3 203.6 C631.4 203.0 629.5 201.3 628.7 200.8" stroke-width="1.7" fill="none" />
<path d="M613.8 151.5 L640.8 173.8" stroke-width="3" fill="none" />
<path d="M613.6 184.0 L628.3 184.0 L627.6 201.0 L614.5 201.0Z" stroke-width="1.2" fill="#000" />
<path d="M617.0 190.5 L625.0 190.2" stroke-width="1.0" fill="none" stroke="#fff"/>
<path d="M617.0 195.0 L625.0 194.7" stroke-width="1.0" fill="none" stroke="#fff"/>
<path d="M614.8 201.0 C616.6 200.3 623.5 200.0 625.5 200.5 C627.5 201.0 626.5 202.8 626.5 204.0 C626.5 205.2 626.5 207.1 625.4 208.0 C624.3 208.9 621.6 209.3 620.0 209.3 C618.4 209.3 616.7 208.8 615.8 208.0 C614.9 207.2 614.8 205.7 614.6 204.5 C614.4 203.3 613.0 201.7 614.8 201.0Z" stroke-width="1.5" fill="#fff" />
<path d="M616.5 204.5 L624.5 204.0" stroke-width="1.3" fill="none" />
<path d="M601.9 176.5 C601.8 175.3 602.2 173.4 603.0 172.5 C603.8 171.6 605.2 170.7 607.0 170.5 C608.8 170.3 612.6 170.8 615.0 171.0 C617.4 171.2 621.1 171.3 623.0 172.0 C624.9 172.7 626.6 174.2 627.5 175.5 C628.4 176.8 628.9 179.2 629.0 180.5 C629.1 181.8 629.6 183.8 628.3 184.5 C626.9 185.2 622.2 185.3 620.0 185.5 C617.8 185.7 615.3 185.8 613.5 185.5 C611.7 185.2 609.5 184.2 608.0 183.5 C606.5 182.8 604.4 181.6 603.5 180.5 C602.6 179.4 602.0 177.7 601.9 176.5Z" stroke-width="1.6" fill="#fff" />
<path d="M606.2 170.7 C606.8 171.1 609.0 172.1 610.0 173.3 C611.0 174.5 611.7 176.0 612.3 178.0 C612.9 180.0 613.2 184.1 613.4 185.3" stroke-width="1.3" fill="none" />
<path d="M615.0 178.5 L627.0 177.5" stroke-width="0.8" fill="none" />
<path d="M615.5 182.0 L627.5 181.3" stroke-width="0.8" fill="none" />
<path d="M426.7 257.2 C427.3 255.5 428.6 250.1 430.5 247.0 C432.4 243.9 435.1 240.8 437.9 238.6 C440.7 236.4 443.8 234.9 447.2 233.9 C450.6 232.9 455.0 232.5 458.4 232.5 C461.8 232.5 465.1 233.2 467.7 233.9 C470.3 234.6 473.1 236.2 474.2 236.7 L473.3 248.8 L476.0 255.0 L479.5 261.5 L480.4 267.5 L452.5 282.0 L428.0 260.5Z" stroke-width="0" fill="#fff" stroke="none"/>
<path d="M426.7 257.2 C427.3 255.5 428.6 250.1 430.5 247.0 C432.4 243.9 435.1 240.8 437.9 238.6 C440.7 236.4 443.8 234.9 447.2 233.9 C450.6 232.9 455.0 232.5 458.4 232.5 C461.8 232.5 465.1 233.2 467.7 233.9 C470.3 234.6 473.1 236.2 474.2 236.7" stroke-width="2" fill="none" />
<path d="M474.2 236.7 C474.1 238.0 473.8 242.1 473.8 244.5 C473.8 246.9 473.6 249.2 474.0 251.0 C474.4 252.8 475.1 253.2 476.0 255.0 C476.9 256.8 478.8 259.4 479.5 261.5 C480.2 263.6 480.2 266.5 480.4 267.5" stroke-width="2.2" fill="none" />
<path d="M441.6 266.5 C443.3 265.4 448.6 261.9 452.0 260.0 C455.4 258.1 459.0 256.0 462.0 255.0 C465.0 254.0 467.8 253.7 470.0 254.0 C472.2 254.3 473.6 255.6 475.0 257.0 C476.4 258.4 477.9 261.6 478.5 262.5" stroke-width="1.4" fill="none" />
<path d="M480.4 267.0 L452.5 281.0" stroke-width="4.2" fill="none" />
<path d="M457.0 277.0 L478.0 266.5" stroke-width="0.7" fill="none" stroke="#fff"/>
<path d="M446.0 273.0 L477.0 260.0" stroke-width="0.6" fill="none" />
<path d="M448.0 276.0 L478.5 263.5" stroke-width="0.6" fill="none" />
<path d="M427.5 256.5 L432.5 265.5" stroke-width="0.8" fill="none" stroke-dasharray="3 1"/>
<path d="M429.3 255.0 L434.3 264.0" stroke-width="0.8" fill="none" stroke-dasharray="3 1"/>
<path d="M431.1 253.5 L436.1 262.5" stroke-width="0.8" fill="none" stroke-dasharray="3 1"/>
<path d="M432.9 252.0 L437.9 261.0" stroke-width="0.8" fill="none" stroke-dasharray="3 1"/>
<path d="M434.7 250.5 L439.7 259.5" stroke-width="0.8" fill="none" stroke-dasharray="3 1"/>
<path d="M436.5 249.0 L441.5 258.0" stroke-width="0.8" fill="none" stroke-dasharray="3 1"/>
<path d="M419.3 279.5 L419.3 260.9 L425.8 260.0 C427.2 260.9 431.1 263.3 434.2 265.5 C437.3 267.7 441.8 270.8 444.4 273.0 C447.0 275.2 448.1 276.0 450.0 278.5 C451.9 281.0 454.1 284.8 455.6 287.9 C457.2 291.0 458.5 294.4 459.3 297.2 C460.1 300.0 460.5 302.3 460.2 304.6 C459.9 306.9 458.8 309.8 457.4 311.2 C456.0 312.6 453.9 312.9 451.9 313.0 C449.9 313.1 447.2 312.7 445.3 312.1 C443.4 311.5 441.5 309.8 440.7 309.3 L427.0 308.5 L419.0 286.5 Z" stroke-width="0" fill="#fff" stroke="none"/>
<path d="M419.3 279.5 L419.3 260.9 L425.8 260.0" stroke-width="1.6" fill="none" />
<path d="M425.8 260.0 C427.2 260.9 431.1 263.3 434.2 265.5 C437.3 267.7 441.8 270.8 444.4 273.0 C447.0 275.2 448.1 276.0 450.0 278.5 C451.9 281.0 454.1 284.8 455.6 287.9 C457.2 291.0 458.5 294.4 459.3 297.2 C460.1 300.0 460.5 302.3 460.2 304.6 C459.9 306.9 458.8 309.8 457.4 311.2 C456.0 312.6 453.9 312.9 451.9 313.0 C449.9 313.1 447.2 312.7 445.3 312.1 C443.4 311.5 441.5 309.8 440.7 309.3" stroke-width="1.7" fill="none" />
<path d="M425.8 260.0 L452.8 282.3" stroke-width="3" fill="none" />
<path d="M425.6 292.5 L440.3 292.5 L439.6 309.5 L426.5 309.5Z" stroke-width="1.2" fill="#000" />
<path d="M429.0 299.0 L437.0 298.7" stroke-width="1.0" fill="none" stroke="#fff"/>
<path d="M429.0 303.5 L437.0 303.2" stroke-width="1.0" fill="none" stroke="#fff"/>
<path d="M426.8 309.5 C428.6 308.8 435.6 308.5 437.5 309.0 C439.4 309.5 438.5 311.2 438.5 312.5 C438.5 313.8 438.5 315.6 437.4 316.5 C436.3 317.4 433.6 317.8 432.0 317.8 C430.4 317.8 428.7 317.3 427.8 316.5 C426.9 315.7 426.8 314.2 426.6 313.0 C426.4 311.8 425.0 310.2 426.8 309.5Z" stroke-width="1.5" fill="#fff" />
<path d="M428.5 313.0 L436.5 312.5" stroke-width="1.3" fill="none" />
<path d="M413.9 285.0 C413.8 283.8 414.2 281.9 415.0 281.0 C415.8 280.1 417.2 279.2 419.0 279.0 C420.8 278.8 424.6 279.3 427.0 279.5 C429.4 279.7 433.1 279.8 435.0 280.5 C436.9 281.2 438.6 282.7 439.5 284.0 C440.4 285.3 440.9 287.6 441.0 289.0 C441.1 290.4 441.6 292.2 440.3 293.0 C438.9 293.8 434.2 293.9 432.0 294.0 C429.8 294.1 427.3 294.3 425.5 294.0 C423.7 293.7 421.5 292.8 420.0 292.0 C418.5 291.2 416.4 290.1 415.5 289.0 C414.6 287.9 414.0 286.2 413.9 285.0Z" stroke-width="1.6" fill="#fff" />
<path d="M418.2 279.2 C418.8 279.6 421.0 280.6 422.0 281.8 C423.0 283.0 423.7 284.5 424.3 286.5 C424.9 288.5 425.2 292.6 425.4 293.8" stroke-width="1.3" fill="none" />
<path d="M427.0 287.0 L439.0 286.0" stroke-width="0.8" fill="none" />
<path d="M427.5 290.5 L439.5 289.8" stroke-width="0.8" fill="none" />
<path d="M700.6 239.3 C701.1 237.5 701.7 231.4 703.5 228.5 C705.3 225.6 708.0 223.5 711.3 221.6 C714.6 219.7 719.2 217.8 723.1 216.8 C727.0 215.8 730.7 215.5 734.8 215.8 C738.9 216.1 745.5 218.2 747.6 218.7 L748.5 232.4 L753.4 240.3 L755.4 246.1 L755.4 252.0 L729.0 265.7 L700.0 246.0Z" stroke-width="0" fill="#fff" stroke="none"/>
<path d="M700.6 239.3 C701.1 237.5 701.7 231.4 703.5 228.5 C705.3 225.6 708.0 223.5 711.3 221.6 C714.6 219.7 719.2 217.8 723.1 216.8 C727.0 215.8 730.7 215.5 734.8 215.8 C738.9 216.1 745.5 218.2 747.6 218.7" stroke-width="2" fill="none" />
<path d="M747.6 218.7 C747.8 221.0 747.5 228.8 748.5 232.4 C749.5 236.0 752.2 238.0 753.4 240.3 C754.5 242.6 755.1 244.2 755.4 246.1 C755.7 248.0 755.4 251.0 755.4 252.0" stroke-width="1.8" fill="none" />
<path d="M723.1 249.0 C724.2 248.1 727.4 245.3 730.0 243.5 C732.6 241.7 735.7 239.7 738.8 238.3 C741.9 237.0 746.1 235.1 748.5 235.4 C750.9 235.7 751.9 237.6 753.0 240.0 C754.1 242.4 754.7 248.3 755.0 250.0" stroke-width="1.4" fill="none" />
<path d="M755.4 252.0 L729.0 265.7" stroke-width="3" fill="none" />
<path d="M726.0 255.0 L753.0 243.0" stroke-width="0.6" fill="none" />
<path d="M728.0 258.5 L754.0 246.5" stroke-width="0.6" fill="none" />
<path d="M702.0 236.0 L706.0 248.0" stroke-width="0.6" fill="none" stroke-dasharray="2 1.5"/>
<path d="M704.4 235.1 L708.4 247.1" stroke-width="0.6" fill="none" stroke-dasharray="2 1.5"/>
<path d="M706.8 234.2 L710.8 246.2" stroke-width="0.6" fill="none" stroke-dasharray="2 1.5"/>
<path d="M709.2 233.3 L713.2 245.3" stroke-width="0.6" fill="none" stroke-dasharray="2 1.5"/>
<path d="M711.6 232.4 L715.6 244.4" stroke-width="0.6" fill="none" stroke-dasharray="2 1.5"/>
<path d="M714.0 231.5 L718.0 243.5" stroke-width="0.6" fill="none" stroke-dasharray="2 1.5"/>
<path d="M716.4 230.6 L720.4 242.6" stroke-width="0.6" fill="none" stroke-dasharray="2 1.5"/>
<path d="M718.8 229.7 L722.8 241.7" stroke-width="0.6" fill="none" stroke-dasharray="2 1.5"/>
<path d="M692.7 265.7 L692.7 245.1 L692.7 245.1 C694.8 245.4 701.4 245.8 705.5 247.1 C709.6 248.4 713.8 250.6 717.2 253.0 C720.6 255.4 723.5 259.0 726.0 261.8 C728.5 264.6 730.4 266.3 731.9 269.6 C733.4 272.9 734.5 278.1 734.8 281.4 C735.1 284.7 734.9 286.9 733.9 289.2 C732.9 291.5 731.0 294.0 729.0 295.1 C727.0 296.2 724.2 296.3 722.1 296.1 C720.0 295.9 717.2 294.4 716.2 294.1 L700 285 Z" stroke-width="0" fill="#fff" stroke="none"/>
<path d="M692.7 265.7 L692.7 245.1" stroke-width="1.6" fill="none" />
<path d="M692.7 245.1 C694.8 245.4 701.4 245.8 705.5 247.1 C709.6 248.4 713.8 250.6 717.2 253.0 C720.6 255.4 723.5 259.0 726.0 261.8 C728.5 264.6 730.4 266.3 731.9 269.6 C733.4 272.9 734.5 278.1 734.8 281.4 C735.1 284.7 734.9 286.9 733.9 289.2 C732.9 291.5 731.0 294.0 729.0 295.1 C727.0 296.2 724.2 296.3 722.1 296.1 C720.0 295.9 717.2 294.4 716.2 294.1" stroke-width="1.7" fill="none" />
<path d="M692.7 245.1 C694.8 245.4 701.4 245.8 705.5 247.1 C709.6 248.4 713.8 250.6 717.2 253.0 C720.6 255.4 723.5 259.0 726.0 261.8 C728.5 264.6 730.9 268.3 731.9 269.6" stroke-width="3" fill="none" />
<path d="M692.0 266.5 C692.7 264.1 697.9 264.7 700.0 264.5 C702.1 264.3 708.2 264.5 710.0 265.0 C711.8 265.5 714.7 267.4 715.5 268.5 C716.3 269.6 716.5 272.7 716.5 274.0 C716.5 275.3 716.0 278.7 715.5 280.0 C715.0 281.3 713.8 284.2 712.0 285.0 C710.2 285.8 702.1 287.0 700.0 287.0 C697.9 287.0 694.9 287.4 694.0 285.0 C693.1 282.6 691.3 268.9 692.0 266.5Z" stroke-width="1.6" fill="#fff" />
<path d="M699.0 278.0 L715.8 273.5 L715.5 280.0 L712.0 285.0 L700.0 287.5Z" stroke-width="1" fill="#000" />
<path d="M703.0 281.5 L713.0 278.5" stroke-width="1" fill="none" stroke="#fff"/>
<path d="M700.0 269.0 L714.0 271.0" stroke-width="0.8" fill="none" />
<path d="M703.0 287.0 L712.0 286.0 L712.0 289.0 L703.0 290.0Z" stroke-width="1.2" fill="#fff" />
<ellipse cx="693.3" cy="275.5" rx="7.3" ry="9.8" transform="rotate(-12 693.3 275.5)" stroke-width="1.8" fill="#fff" />
<ellipse cx="693.8" cy="275.6" rx="4.8" ry="7" transform="rotate(-12 693.8 275.6)" stroke-width="1.3" fill="#fff" />
<path d="M714.8 300.5 C714.5 301.5 710.7 305.3 709.7 305.6 C708.7 305.8 703.4 304.4 702.7 303.7 C702.0 303.0 700.6 297.7 700.8 296.7 C701.1 295.7 704.9 291.9 705.9 291.6 C706.9 291.4 712.2 292.8 712.9 293.5 C713.6 294.2 715.0 299.5 714.8 300.5Z" stroke-width="2.2" fill="#fff" />
<path d="M706.4 299.3 L714.3 297.9 L713.2 303.6 L708.5 305.4 L704.2 303.6Z" stroke-width="0.8" fill="#000" />
<path d="M707.8 298.6 m-3.24 0 a3.24 3.6 0 1 0 6.48 0 a3.24 3.6 0 1 0 -6.48 0" stroke-width="1.3" fill="#fff" />
<path d="M706.4 292.1 L706.4 295.7" stroke-width="1.2" fill="none" />
<path d="M704.5 316.0 C704.5 314.2 705.1 313.6 705.5 313.3 C705.9 313.0 707.7 312.6 708.3 312.6 C708.9 312.6 710.8 313.0 711.2 313.3 C711.6 313.6 712.0 314.2 712.0 316.0 C712.0 317.8 712.3 329.9 711.6 331.5 C710.9 333.1 705.7 333.1 705.0 331.5 C704.3 329.9 704.5 317.8 704.5 316.0Z" stroke-width="1.8" fill="#fff" />
<path d="M706.5 318.0 L706.5 330.0" stroke-width="1.3" fill="none" />
<path d="M706.0 316.0 L711.0 316.0" stroke-width="1" fill="none" />
<path d="M702.6 332.0 C703.8 331.6 713.4 331.6 714.6 332.0 C715.8 332.4 715.1 335.3 714.8 336.0 C714.5 336.7 713.0 338.5 712.0 338.8 C711.0 339.1 706.0 339.1 705.0 338.8 C704.0 338.5 702.7 336.7 702.5 336.0 C702.3 335.3 701.4 332.4 702.6 332.0Z" stroke-width="1.6" fill="#fff" />
<path d="M705.0 335.5 L712.5 335.5" stroke-width="1" fill="none" />
<path d="M667.3 345.0 L687.7 277.7" stroke-width="1" fill="none" />
<path d="M690.8 343.4 L705.0 326.0" stroke-width="1" fill="none" />
<text transform="translate(661.5 354.3) scale(0.68 1)" font-size="11.3" style="stroke:#000;stroke-width:0.35">11</text>
<text transform="translate(685.5 354.5) scale(0.68 1)" font-size="11.3" style="stroke:#000;stroke-width:0.35">10</text>
<path d="M645.0 276.6 L473.2 303.0 L473.2 298.7 L463.0 307.5 L473.2 314.8 L473.2 310.4 L628.9 309.0 L637.7 329.5" stroke-width="1.2" fill="none" />
<path d="M645.0 276.6 L659.7 251.7 L653.0 218.2 L648.5 218.2 L648.5 207.2 L661.0 210.4 L657.0 213.5 L680.0 229.0 L730.0 197.8" stroke-width="1.2" fill="none" />
</g>
</svg>
</body></html>
